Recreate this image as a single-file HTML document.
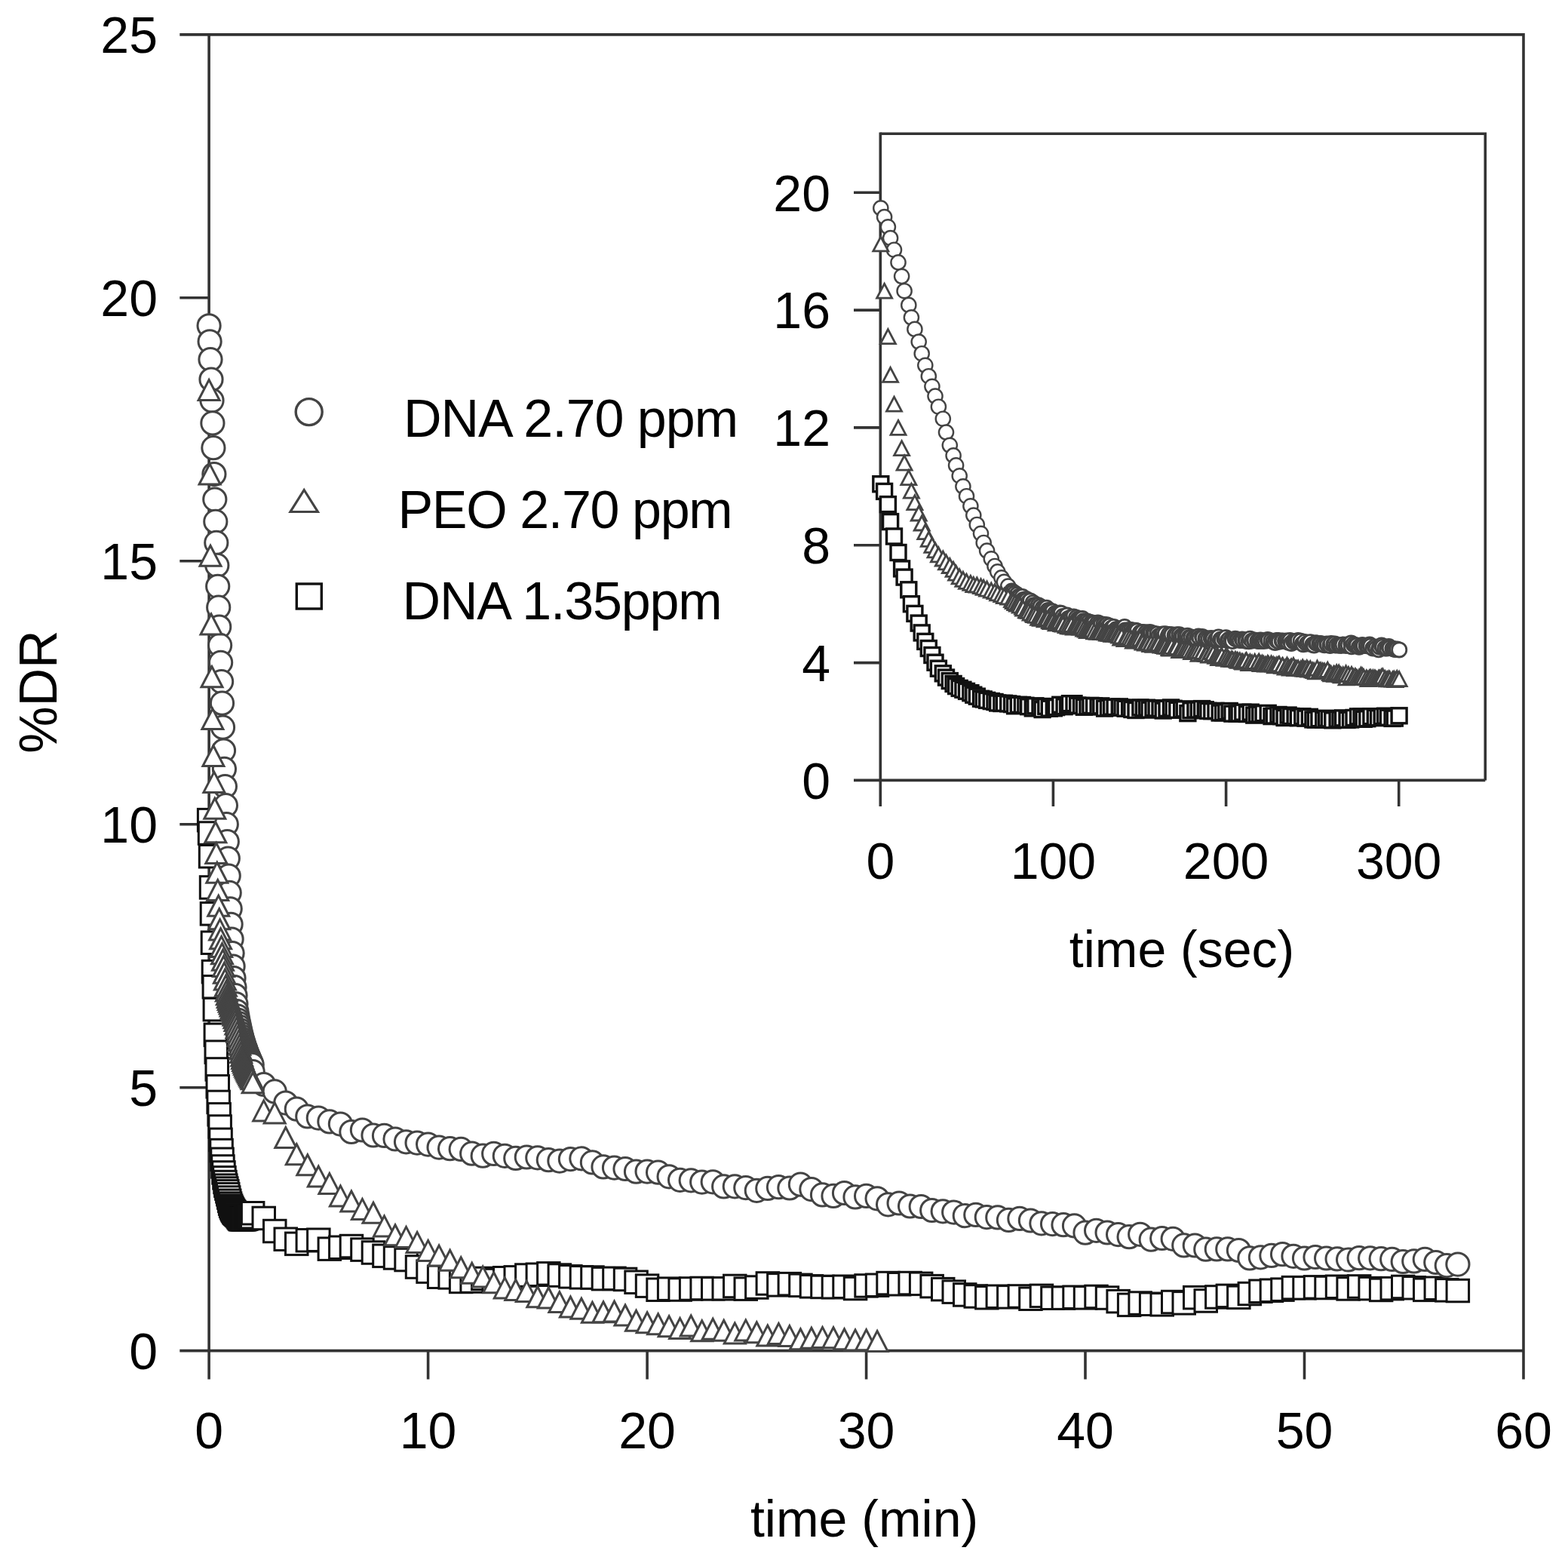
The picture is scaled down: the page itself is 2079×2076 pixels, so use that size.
<!DOCTYPE html>
<html><head><meta charset="utf-8"><title>%DR vs time</title><style>html,body{margin:0;padding:0;background:#fff;overflow:hidden;}svg{display:block;}</style></head><body>
<svg width="2079" height="2076" viewBox="0 0 2079 2076">
<rect width="2079" height="2076" fill="#fff"/>
<g stroke="#333" stroke-width="3.6" fill="none" stroke-linecap="butt">
<path d="M238.3 45.9H2020.0V1828.5"/>
<path d="M238.3 1790.6H2020.0"/>
<path d="M277.1 44.1V1828.5"/>
<path d="M238.3 1441.7H277.1"/>
<path d="M238.3 1092.7H277.1"/>
<path d="M238.3 743.8H277.1"/>
<path d="M238.3 394.8H277.1"/>
<path d="M567.6 1790.6V1828.5"/>
<path d="M858.1 1790.6V1828.5"/>
<path d="M1148.6 1790.6V1828.5"/>
<path d="M1439.0 1790.6V1828.5"/>
<path d="M1729.5 1790.6V1828.5"/>
</g>
<g stroke="#333" stroke-width="3.6" fill="none">
<path d="M1167.3 177.3H1969.3V1034.4"/>
<path d="M1132 1034.4H1969.3"/>
<path d="M1167.3 175.5V1069"/>
<path d="M1132 878.6H1167.3"/>
<path d="M1132 722.7H1167.3"/>
<path d="M1132 566.9H1167.3"/>
<path d="M1132 411.1H1167.3"/>
<path d="M1132 255.2H1167.3"/>
<path d="M1396.4 1034.4V1069"/>
<path d="M1625.6 1034.4V1069"/>
<path d="M1854.7 1034.4V1069"/>
</g>
<g font-family="'Liberation Sans', Arial, Helvetica, sans-serif" font-size="68" fill="#000">
<text x="209" y="1814.9" text-anchor="end">0</text>
<text x="209" y="1466.0" text-anchor="end">5</text>
<text x="209" y="1117.0" text-anchor="end">10</text>
<text x="209" y="768.1" text-anchor="end">15</text>
<text x="209" y="419.1" text-anchor="end">20</text>
<text x="209" y="70.2" text-anchor="end">25</text>
<text x="277.1" y="1920" text-anchor="middle">0</text>
<text x="567.6" y="1920" text-anchor="middle">10</text>
<text x="858.1" y="1920" text-anchor="middle">20</text>
<text x="1148.6" y="1920" text-anchor="middle">30</text>
<text x="1439.0" y="1920" text-anchor="middle">40</text>
<text x="1729.5" y="1920" text-anchor="middle">50</text>
<text x="2020.0" y="1920" text-anchor="middle">60</text>
<text x="1101" y="1058.7" text-anchor="end">0</text>
<text x="1101" y="902.9" text-anchor="end">4</text>
<text x="1101" y="747.0" text-anchor="end">8</text>
<text x="1101" y="591.2" text-anchor="end">12</text>
<text x="1101" y="435.4" text-anchor="end">16</text>
<text x="1101" y="279.5" text-anchor="end">20</text>
<text x="1167.3" y="1165" text-anchor="middle">0</text>
<text x="1396.4" y="1165" text-anchor="middle">100</text>
<text x="1625.6" y="1165" text-anchor="middle">200</text>
<text x="1854.7" y="1165" text-anchor="middle">300</text>
<text x="1146" y="2037.4" text-anchor="middle">time (min)</text>
<text x="1567" y="1281.7" text-anchor="middle">time (sec)</text>
<text transform="translate(74.5 917) rotate(-90)" text-anchor="middle" font-size="70">%DR</text>
<text x="535" y="578.5" font-size="70" textLength="444" lengthAdjust="spacing">DNA 2.70 ppm</text>
<text x="527.5" y="699.5" font-size="70" textLength="444" lengthAdjust="spacing">PEO 2.70 ppm</text>
<text x="533.5" y="820.5" font-size="70" textLength="424" lengthAdjust="spacing">DNA 1.35ppm</text>
</g>
<circle cx="409.7" cy="546.1" r="17.5" fill="#fff" stroke="#444" stroke-width="3.4"/>
<path d="M403.2 649.5L421.4 678.5L385.0 678.5Z" fill="#fff" stroke="#444" stroke-width="3.2" stroke-linejoin="miter"/>
<rect x="393.3" y="774.0" width="33" height="33" fill="#fff" stroke="#111" stroke-width="3.4"/>
<rect x="1157.8" y="631.7" width="20" height="20" fill="#fff" stroke="#111" stroke-width="3.4"/>
<rect x="1162.6" y="641.4" width="20" height="20" fill="#fff" stroke="#111" stroke-width="3.4"/>
<rect x="1167.4" y="658.6" width="20" height="20" fill="#fff" stroke="#111" stroke-width="3.4"/>
<rect x="1170.6" y="681.6" width="20" height="20" fill="#fff" stroke="#111" stroke-width="3.4"/>
<rect x="1175.5" y="701.0" width="20" height="20" fill="#fff" stroke="#111" stroke-width="3.4"/>
<rect x="1181.0" y="722.5" width="20" height="20" fill="#fff" stroke="#111" stroke-width="3.4"/>
<rect x="1185.6" y="743.9" width="20" height="20" fill="#fff" stroke="#111" stroke-width="3.4"/>
<rect x="1189.1" y="755.1" width="20" height="20" fill="#fff" stroke="#111" stroke-width="3.4"/>
<rect x="1194.8" y="771.8" width="20" height="20" fill="#fff" stroke="#111" stroke-width="3.4"/>
<rect x="1198.4" y="790.7" width="20" height="20" fill="#fff" stroke="#111" stroke-width="3.4"/>
<rect x="1202.9" y="803.4" width="20" height="20" fill="#fff" stroke="#111" stroke-width="3.4"/>
<rect x="1208.2" y="816.1" width="20" height="20" fill="#fff" stroke="#111" stroke-width="3.4"/>
<rect x="1212.2" y="828.9" width="20" height="20" fill="#fff" stroke="#111" stroke-width="3.4"/>
<rect x="1216.8" y="840.4" width="20" height="20" fill="#fff" stroke="#111" stroke-width="3.4"/>
<rect x="1221.3" y="849.5" width="20" height="20" fill="#fff" stroke="#111" stroke-width="3.4"/>
<rect x="1225.9" y="858.5" width="20" height="20" fill="#fff" stroke="#111" stroke-width="3.4"/>
<rect x="1230.0" y="868.2" width="20" height="20" fill="#fff" stroke="#111" stroke-width="3.4"/>
<rect x="1234.4" y="876.2" width="20" height="20" fill="#fff" stroke="#111" stroke-width="3.4"/>
<rect x="1240.3" y="882.8" width="20" height="20" fill="#fff" stroke="#111" stroke-width="3.4"/>
<rect x="1244.5" y="888.1" width="20" height="20" fill="#fff" stroke="#111" stroke-width="3.4"/>
<rect x="1249.3" y="892.6" width="20" height="20" fill="#fff" stroke="#111" stroke-width="3.4"/>
<rect x="1254.1" y="896.5" width="20" height="20" fill="#fff" stroke="#111" stroke-width="3.4"/>
<rect x="1257.6" y="899.6" width="20" height="20" fill="#fff" stroke="#111" stroke-width="3.4"/>
<rect x="1262.2" y="902.4" width="20" height="20" fill="#fff" stroke="#111" stroke-width="3.4"/>
<rect x="1266.9" y="904.3" width="20" height="20" fill="#fff" stroke="#111" stroke-width="3.4"/>
<rect x="1271.5" y="906.4" width="20" height="20" fill="#fff" stroke="#111" stroke-width="3.4"/>
<rect x="1276.9" y="908.7" width="20" height="20" fill="#fff" stroke="#111" stroke-width="3.4"/>
<rect x="1280.8" y="911.2" width="20" height="20" fill="#fff" stroke="#111" stroke-width="3.4"/>
<rect x="1285.3" y="913.2" width="20" height="20" fill="#fff" stroke="#111" stroke-width="3.4"/>
<rect x="1290.5" y="916.3" width="20" height="20" fill="#fff" stroke="#111" stroke-width="3.4"/>
<rect x="1294.2" y="917.0" width="20" height="20" fill="#fff" stroke="#111" stroke-width="3.4"/>
<rect x="1298.6" y="918.4" width="20" height="20" fill="#fff" stroke="#111" stroke-width="3.4"/>
<rect x="1304.3" y="919.6" width="20" height="20" fill="#fff" stroke="#111" stroke-width="3.4"/>
<rect x="1309.0" y="920.5" width="20" height="20" fill="#fff" stroke="#111" stroke-width="3.4"/>
<rect x="1312.7" y="922.0" width="20" height="20" fill="#fff" stroke="#111" stroke-width="3.4"/>
<rect x="1317.9" y="922.5" width="20" height="20" fill="#fff" stroke="#111" stroke-width="3.4"/>
<rect x="1321.4" y="922.3" width="20" height="20" fill="#fff" stroke="#111" stroke-width="3.4"/>
<rect x="1326.7" y="922.9" width="20" height="20" fill="#fff" stroke="#111" stroke-width="3.4"/>
<rect x="1331.6" y="923.6" width="20" height="20" fill="#fff" stroke="#111" stroke-width="3.4"/>
<rect x="1335.6" y="925.8" width="20" height="20" fill="#fff" stroke="#111" stroke-width="3.4"/>
<rect x="1340.3" y="924.4" width="20" height="20" fill="#fff" stroke="#111" stroke-width="3.4"/>
<rect x="1345.4" y="924.5" width="20" height="20" fill="#fff" stroke="#111" stroke-width="3.4"/>
<rect x="1349.9" y="925.3" width="20" height="20" fill="#fff" stroke="#111" stroke-width="3.4"/>
<rect x="1353.7" y="926.7" width="20" height="20" fill="#fff" stroke="#111" stroke-width="3.4"/>
<rect x="1359.3" y="928.9" width="20" height="20" fill="#fff" stroke="#111" stroke-width="3.4"/>
<rect x="1362.8" y="925.8" width="20" height="20" fill="#fff" stroke="#111" stroke-width="3.4"/>
<rect x="1369.0" y="927.2" width="20" height="20" fill="#fff" stroke="#111" stroke-width="3.4"/>
<rect x="1372.1" y="930.6" width="20" height="20" fill="#fff" stroke="#111" stroke-width="3.4"/>
<rect x="1376.8" y="926.5" width="20" height="20" fill="#fff" stroke="#111" stroke-width="3.4"/>
<rect x="1381.3" y="929.2" width="20" height="20" fill="#fff" stroke="#111" stroke-width="3.4"/>
<rect x="1387.3" y="928.8" width="20" height="20" fill="#fff" stroke="#111" stroke-width="3.4"/>
<rect x="1390.6" y="927.6" width="20" height="20" fill="#fff" stroke="#111" stroke-width="3.4"/>
<rect x="1395.8" y="924.3" width="20" height="20" fill="#fff" stroke="#111" stroke-width="3.4"/>
<rect x="1401.1" y="926.7" width="20" height="20" fill="#fff" stroke="#111" stroke-width="3.4"/>
<rect x="1405.6" y="925.4" width="20" height="20" fill="#fff" stroke="#111" stroke-width="3.4"/>
<rect x="1408.5" y="922.7" width="20" height="20" fill="#fff" stroke="#111" stroke-width="3.4"/>
<rect x="1414.0" y="922.7" width="20" height="20" fill="#fff" stroke="#111" stroke-width="3.4"/>
<rect x="1418.7" y="925.2" width="20" height="20" fill="#fff" stroke="#111" stroke-width="3.4"/>
<rect x="1423.5" y="925.5" width="20" height="20" fill="#fff" stroke="#111" stroke-width="3.4"/>
<rect x="1427.4" y="927.3" width="20" height="20" fill="#fff" stroke="#111" stroke-width="3.4"/>
<rect x="1432.0" y="926.8" width="20" height="20" fill="#fff" stroke="#111" stroke-width="3.4"/>
<rect x="1435.9" y="925.4" width="20" height="20" fill="#fff" stroke="#111" stroke-width="3.4"/>
<rect x="1440.6" y="925.8" width="20" height="20" fill="#fff" stroke="#111" stroke-width="3.4"/>
<rect x="1446.1" y="926.7" width="20" height="20" fill="#fff" stroke="#111" stroke-width="3.4"/>
<rect x="1449.8" y="925.9" width="20" height="20" fill="#fff" stroke="#111" stroke-width="3.4"/>
<rect x="1454.6" y="929.1" width="20" height="20" fill="#fff" stroke="#111" stroke-width="3.4"/>
<rect x="1459.5" y="928.3" width="20" height="20" fill="#fff" stroke="#111" stroke-width="3.4"/>
<rect x="1463.6" y="927.2" width="20" height="20" fill="#fff" stroke="#111" stroke-width="3.4"/>
<rect x="1468.1" y="927.5" width="20" height="20" fill="#fff" stroke="#111" stroke-width="3.4"/>
<rect x="1474.3" y="926.9" width="20" height="20" fill="#fff" stroke="#111" stroke-width="3.4"/>
<rect x="1478.0" y="928.1" width="20" height="20" fill="#fff" stroke="#111" stroke-width="3.4"/>
<rect x="1482.1" y="929.3" width="20" height="20" fill="#fff" stroke="#111" stroke-width="3.4"/>
<rect x="1487.6" y="928.3" width="20" height="20" fill="#fff" stroke="#111" stroke-width="3.4"/>
<rect x="1490.9" y="930.5" width="20" height="20" fill="#fff" stroke="#111" stroke-width="3.4"/>
<rect x="1496.0" y="931.5" width="20" height="20" fill="#fff" stroke="#111" stroke-width="3.4"/>
<rect x="1501.9" y="928.0" width="20" height="20" fill="#fff" stroke="#111" stroke-width="3.4"/>
<rect x="1506.3" y="929.0" width="20" height="20" fill="#fff" stroke="#111" stroke-width="3.4"/>
<rect x="1510.4" y="928.2" width="20" height="20" fill="#fff" stroke="#111" stroke-width="3.4"/>
<rect x="1514.0" y="931.1" width="20" height="20" fill="#fff" stroke="#111" stroke-width="3.4"/>
<rect x="1519.0" y="928.8" width="20" height="20" fill="#fff" stroke="#111" stroke-width="3.4"/>
<rect x="1523.1" y="929.1" width="20" height="20" fill="#fff" stroke="#111" stroke-width="3.4"/>
<rect x="1528.0" y="929.6" width="20" height="20" fill="#fff" stroke="#111" stroke-width="3.4"/>
<rect x="1532.2" y="932.0" width="20" height="20" fill="#fff" stroke="#111" stroke-width="3.4"/>
<rect x="1537.0" y="929.4" width="20" height="20" fill="#fff" stroke="#111" stroke-width="3.4"/>
<rect x="1542.5" y="928.0" width="20" height="20" fill="#fff" stroke="#111" stroke-width="3.4"/>
<rect x="1546.1" y="929.3" width="20" height="20" fill="#fff" stroke="#111" stroke-width="3.4"/>
<rect x="1550.8" y="931.3" width="20" height="20" fill="#fff" stroke="#111" stroke-width="3.4"/>
<rect x="1556.7" y="930.8" width="20" height="20" fill="#fff" stroke="#111" stroke-width="3.4"/>
<rect x="1560.3" y="929.9" width="20" height="20" fill="#fff" stroke="#111" stroke-width="3.4"/>
<rect x="1564.9" y="935.6" width="20" height="20" fill="#fff" stroke="#111" stroke-width="3.4"/>
<rect x="1569.0" y="931.8" width="20" height="20" fill="#fff" stroke="#111" stroke-width="3.4"/>
<rect x="1574.9" y="931.0" width="20" height="20" fill="#fff" stroke="#111" stroke-width="3.4"/>
<rect x="1579.2" y="931.0" width="20" height="20" fill="#fff" stroke="#111" stroke-width="3.4"/>
<rect x="1583.6" y="929.6" width="20" height="20" fill="#fff" stroke="#111" stroke-width="3.4"/>
<rect x="1588.3" y="930.8" width="20" height="20" fill="#fff" stroke="#111" stroke-width="3.4"/>
<rect x="1591.9" y="932.4" width="20" height="20" fill="#fff" stroke="#111" stroke-width="3.4"/>
<rect x="1596.8" y="932.7" width="20" height="20" fill="#fff" stroke="#111" stroke-width="3.4"/>
<rect x="1602.0" y="932.4" width="20" height="20" fill="#fff" stroke="#111" stroke-width="3.4"/>
<rect x="1607.2" y="935.0" width="20" height="20" fill="#fff" stroke="#111" stroke-width="3.4"/>
<rect x="1611.6" y="934.7" width="20" height="20" fill="#fff" stroke="#111" stroke-width="3.4"/>
<rect x="1615.8" y="933.7" width="20" height="20" fill="#fff" stroke="#111" stroke-width="3.4"/>
<rect x="1620.2" y="932.5" width="20" height="20" fill="#fff" stroke="#111" stroke-width="3.4"/>
<rect x="1623.9" y="936.1" width="20" height="20" fill="#fff" stroke="#111" stroke-width="3.4"/>
<rect x="1630.1" y="936.1" width="20" height="20" fill="#fff" stroke="#111" stroke-width="3.4"/>
<rect x="1633.1" y="935.9" width="20" height="20" fill="#fff" stroke="#111" stroke-width="3.4"/>
<rect x="1637.8" y="934.2" width="20" height="20" fill="#fff" stroke="#111" stroke-width="3.4"/>
<rect x="1643.4" y="936.5" width="20" height="20" fill="#fff" stroke="#111" stroke-width="3.4"/>
<rect x="1648.2" y="934.2" width="20" height="20" fill="#fff" stroke="#111" stroke-width="3.4"/>
<rect x="1652.8" y="938.1" width="20" height="20" fill="#fff" stroke="#111" stroke-width="3.4"/>
<rect x="1656.7" y="937.0" width="20" height="20" fill="#fff" stroke="#111" stroke-width="3.4"/>
<rect x="1660.8" y="937.1" width="20" height="20" fill="#fff" stroke="#111" stroke-width="3.4"/>
<rect x="1665.1" y="935.7" width="20" height="20" fill="#fff" stroke="#111" stroke-width="3.4"/>
<rect x="1671.2" y="935.4" width="20" height="20" fill="#fff" stroke="#111" stroke-width="3.4"/>
<rect x="1676.0" y="939.6" width="20" height="20" fill="#fff" stroke="#111" stroke-width="3.4"/>
<rect x="1679.3" y="939.0" width="20" height="20" fill="#fff" stroke="#111" stroke-width="3.4"/>
<rect x="1685.0" y="937.5" width="20" height="20" fill="#fff" stroke="#111" stroke-width="3.4"/>
<rect x="1688.7" y="939.6" width="20" height="20" fill="#fff" stroke="#111" stroke-width="3.4"/>
<rect x="1693.1" y="941.5" width="20" height="20" fill="#fff" stroke="#111" stroke-width="3.4"/>
<rect x="1698.1" y="938.1" width="20" height="20" fill="#fff" stroke="#111" stroke-width="3.4"/>
<rect x="1701.8" y="939.5" width="20" height="20" fill="#fff" stroke="#111" stroke-width="3.4"/>
<rect x="1707.1" y="939.9" width="20" height="20" fill="#fff" stroke="#111" stroke-width="3.4"/>
<rect x="1711.3" y="941.7" width="20" height="20" fill="#fff" stroke="#111" stroke-width="3.4"/>
<rect x="1716.8" y="939.8" width="20" height="20" fill="#fff" stroke="#111" stroke-width="3.4"/>
<rect x="1721.0" y="942.1" width="20" height="20" fill="#fff" stroke="#111" stroke-width="3.4"/>
<rect x="1726.3" y="940.4" width="20" height="20" fill="#fff" stroke="#111" stroke-width="3.4"/>
<rect x="1730.9" y="943.9" width="20" height="20" fill="#fff" stroke="#111" stroke-width="3.4"/>
<rect x="1734.4" y="944.1" width="20" height="20" fill="#fff" stroke="#111" stroke-width="3.4"/>
<rect x="1738.9" y="942.7" width="20" height="20" fill="#fff" stroke="#111" stroke-width="3.4"/>
<rect x="1744.7" y="944.3" width="20" height="20" fill="#fff" stroke="#111" stroke-width="3.4"/>
<rect x="1748.5" y="942.3" width="20" height="20" fill="#fff" stroke="#111" stroke-width="3.4"/>
<rect x="1752.3" y="943.0" width="20" height="20" fill="#fff" stroke="#111" stroke-width="3.4"/>
<rect x="1756.8" y="944.8" width="20" height="20" fill="#fff" stroke="#111" stroke-width="3.4"/>
<rect x="1763.1" y="943.3" width="20" height="20" fill="#fff" stroke="#111" stroke-width="3.4"/>
<rect x="1767.0" y="943.9" width="20" height="20" fill="#fff" stroke="#111" stroke-width="3.4"/>
<rect x="1770.6" y="941.9" width="20" height="20" fill="#fff" stroke="#111" stroke-width="3.4"/>
<rect x="1776.0" y="944.4" width="20" height="20" fill="#fff" stroke="#111" stroke-width="3.4"/>
<rect x="1780.6" y="944.0" width="20" height="20" fill="#fff" stroke="#111" stroke-width="3.4"/>
<rect x="1785.0" y="941.5" width="20" height="20" fill="#fff" stroke="#111" stroke-width="3.4"/>
<rect x="1790.6" y="939.9" width="20" height="20" fill="#fff" stroke="#111" stroke-width="3.4"/>
<rect x="1795.1" y="940.2" width="20" height="20" fill="#fff" stroke="#111" stroke-width="3.4"/>
<rect x="1798.2" y="943.3" width="20" height="20" fill="#fff" stroke="#111" stroke-width="3.4"/>
<rect x="1802.8" y="942.7" width="20" height="20" fill="#fff" stroke="#111" stroke-width="3.4"/>
<rect x="1807.9" y="939.7" width="20" height="20" fill="#fff" stroke="#111" stroke-width="3.4"/>
<rect x="1813.3" y="941.3" width="20" height="20" fill="#fff" stroke="#111" stroke-width="3.4"/>
<rect x="1817.5" y="941.7" width="20" height="20" fill="#fff" stroke="#111" stroke-width="3.4"/>
<rect x="1822.2" y="939.7" width="20" height="20" fill="#fff" stroke="#111" stroke-width="3.4"/>
<rect x="1826.5" y="939.2" width="20" height="20" fill="#fff" stroke="#111" stroke-width="3.4"/>
<rect x="1830.4" y="941.2" width="20" height="20" fill="#fff" stroke="#111" stroke-width="3.4"/>
<rect x="1836.1" y="942.4" width="20" height="20" fill="#fff" stroke="#111" stroke-width="3.4"/>
<rect x="1839.3" y="942.1" width="20" height="20" fill="#fff" stroke="#111" stroke-width="3.4"/>
<rect x="1845.1" y="938.8" width="20" height="20" fill="#fff" stroke="#111" stroke-width="3.4"/>
<circle cx="1167.8" cy="275.9" r="9.6" fill="#fff" stroke="#444" stroke-width="2.4"/>
<circle cx="1172.6" cy="287.6" r="9.6" fill="#fff" stroke="#444" stroke-width="2.4"/>
<circle cx="1177.4" cy="300.8" r="9.6" fill="#fff" stroke="#444" stroke-width="2.4"/>
<circle cx="1180.6" cy="315.6" r="9.6" fill="#fff" stroke="#444" stroke-width="2.4"/>
<circle cx="1185.5" cy="331.2" r="9.6" fill="#fff" stroke="#444" stroke-width="2.4"/>
<circle cx="1191.0" cy="347.9" r="9.6" fill="#fff" stroke="#444" stroke-width="2.4"/>
<circle cx="1195.6" cy="366.3" r="9.6" fill="#fff" stroke="#444" stroke-width="2.4"/>
<circle cx="1199.1" cy="385.7" r="9.6" fill="#fff" stroke="#444" stroke-width="2.4"/>
<circle cx="1204.8" cy="404.4" r="9.6" fill="#fff" stroke="#444" stroke-width="2.4"/>
<circle cx="1208.4" cy="420.8" r="9.6" fill="#fff" stroke="#444" stroke-width="2.4"/>
<circle cx="1212.9" cy="436.4" r="9.6" fill="#fff" stroke="#444" stroke-width="2.4"/>
<circle cx="1218.2" cy="453.1" r="9.6" fill="#fff" stroke="#444" stroke-width="2.4"/>
<circle cx="1222.2" cy="468.7" r="9.6" fill="#fff" stroke="#444" stroke-width="2.4"/>
<circle cx="1226.8" cy="484.3" r="9.6" fill="#fff" stroke="#444" stroke-width="2.4"/>
<circle cx="1231.3" cy="498.7" r="9.6" fill="#fff" stroke="#444" stroke-width="2.4"/>
<circle cx="1235.9" cy="512.3" r="9.6" fill="#fff" stroke="#444" stroke-width="2.4"/>
<circle cx="1240.0" cy="525.1" r="9.6" fill="#fff" stroke="#444" stroke-width="2.4"/>
<circle cx="1244.4" cy="539.2" r="9.6" fill="#fff" stroke="#444" stroke-width="2.4"/>
<circle cx="1250.3" cy="555.2" r="9.6" fill="#fff" stroke="#444" stroke-width="2.4"/>
<circle cx="1254.5" cy="573.1" r="9.6" fill="#fff" stroke="#444" stroke-width="2.4"/>
<circle cx="1259.3" cy="590.3" r="9.6" fill="#fff" stroke="#444" stroke-width="2.4"/>
<circle cx="1264.1" cy="603.9" r="9.6" fill="#fff" stroke="#444" stroke-width="2.4"/>
<circle cx="1267.6" cy="616.9" r="9.6" fill="#fff" stroke="#444" stroke-width="2.4"/>
<circle cx="1272.2" cy="630.8" r="9.6" fill="#fff" stroke="#444" stroke-width="2.4"/>
<circle cx="1276.9" cy="644.8" r="9.6" fill="#fff" stroke="#444" stroke-width="2.4"/>
<circle cx="1281.5" cy="657.7" r="9.6" fill="#fff" stroke="#444" stroke-width="2.4"/>
<circle cx="1286.9" cy="670.8" r="9.6" fill="#fff" stroke="#444" stroke-width="2.4"/>
<circle cx="1290.8" cy="683.1" r="9.6" fill="#fff" stroke="#444" stroke-width="2.4"/>
<circle cx="1295.3" cy="695.5" r="9.6" fill="#fff" stroke="#444" stroke-width="2.4"/>
<circle cx="1300.5" cy="707.3" r="9.6" fill="#fff" stroke="#444" stroke-width="2.4"/>
<circle cx="1304.2" cy="719.5" r="9.6" fill="#fff" stroke="#444" stroke-width="2.4"/>
<circle cx="1308.6" cy="730.1" r="9.6" fill="#fff" stroke="#444" stroke-width="2.4"/>
<circle cx="1314.3" cy="740.8" r="9.6" fill="#fff" stroke="#444" stroke-width="2.4"/>
<circle cx="1319.0" cy="750.5" r="9.6" fill="#fff" stroke="#444" stroke-width="2.4"/>
<circle cx="1322.7" cy="757.9" r="9.6" fill="#fff" stroke="#444" stroke-width="2.4"/>
<circle cx="1327.9" cy="765.9" r="9.6" fill="#fff" stroke="#444" stroke-width="2.4"/>
<circle cx="1331.4" cy="771.4" r="9.6" fill="#fff" stroke="#444" stroke-width="2.4"/>
<circle cx="1336.7" cy="777.1" r="9.6" fill="#fff" stroke="#444" stroke-width="2.4"/>
<circle cx="1341.6" cy="783.6" r="9.6" fill="#fff" stroke="#444" stroke-width="2.8"/>
<circle cx="1343.3" cy="785.1" r="9.6" fill="#fff" stroke="#444" stroke-width="2.8"/>
<circle cx="1345.8" cy="786.6" r="9.6" fill="#fff" stroke="#444" stroke-width="2.8"/>
<circle cx="1348.5" cy="788.2" r="9.6" fill="#fff" stroke="#444" stroke-width="2.8"/>
<circle cx="1350.8" cy="790.8" r="9.6" fill="#fff" stroke="#444" stroke-width="2.8"/>
<circle cx="1352.3" cy="791.0" r="9.6" fill="#fff" stroke="#444" stroke-width="2.8"/>
<circle cx="1355.6" cy="791.0" r="9.6" fill="#fff" stroke="#444" stroke-width="2.8"/>
<circle cx="1356.7" cy="795.1" r="9.6" fill="#fff" stroke="#444" stroke-width="2.8"/>
<circle cx="1360.6" cy="793.9" r="9.6" fill="#fff" stroke="#444" stroke-width="2.8"/>
<circle cx="1361.5" cy="795.9" r="9.6" fill="#fff" stroke="#444" stroke-width="2.8"/>
<circle cx="1363.9" cy="798.0" r="9.6" fill="#fff" stroke="#444" stroke-width="2.8"/>
<circle cx="1366.1" cy="796.4" r="9.6" fill="#fff" stroke="#444" stroke-width="2.8"/>
<circle cx="1369.8" cy="798.9" r="9.6" fill="#fff" stroke="#444" stroke-width="2.8"/>
<circle cx="1370.8" cy="802.2" r="9.6" fill="#fff" stroke="#444" stroke-width="2.8"/>
<circle cx="1373.7" cy="801.9" r="9.6" fill="#fff" stroke="#444" stroke-width="2.8"/>
<circle cx="1376.7" cy="802.3" r="9.6" fill="#fff" stroke="#444" stroke-width="2.8"/>
<circle cx="1378.9" cy="804.2" r="9.6" fill="#fff" stroke="#444" stroke-width="2.8"/>
<circle cx="1379.6" cy="804.1" r="9.6" fill="#fff" stroke="#444" stroke-width="2.8"/>
<circle cx="1382.7" cy="805.9" r="9.6" fill="#fff" stroke="#444" stroke-width="2.8"/>
<circle cx="1385.2" cy="805.9" r="9.6" fill="#fff" stroke="#444" stroke-width="2.8"/>
<circle cx="1387.6" cy="805.7" r="9.6" fill="#fff" stroke="#444" stroke-width="2.8"/>
<circle cx="1389.3" cy="809.3" r="9.6" fill="#fff" stroke="#444" stroke-width="2.8"/>
<circle cx="1391.5" cy="808.9" r="9.6" fill="#fff" stroke="#444" stroke-width="2.8"/>
<circle cx="1393.2" cy="810.6" r="9.6" fill="#fff" stroke="#444" stroke-width="2.8"/>
<circle cx="1395.6" cy="810.6" r="9.6" fill="#fff" stroke="#444" stroke-width="2.8"/>
<circle cx="1398.8" cy="813.2" r="9.6" fill="#fff" stroke="#444" stroke-width="2.8"/>
<circle cx="1400.2" cy="813.1" r="9.6" fill="#fff" stroke="#444" stroke-width="2.8"/>
<circle cx="1402.8" cy="813.3" r="9.6" fill="#fff" stroke="#444" stroke-width="2.8"/>
<circle cx="1405.3" cy="812.5" r="9.6" fill="#fff" stroke="#444" stroke-width="2.8"/>
<circle cx="1407.1" cy="812.9" r="9.6" fill="#fff" stroke="#444" stroke-width="2.8"/>
<circle cx="1409.3" cy="817.0" r="9.6" fill="#fff" stroke="#444" stroke-width="2.8"/>
<circle cx="1413.3" cy="816.9" r="9.6" fill="#fff" stroke="#444" stroke-width="2.8"/>
<circle cx="1414.7" cy="815.6" r="9.6" fill="#fff" stroke="#444" stroke-width="2.8"/>
<circle cx="1416.5" cy="819.9" r="9.6" fill="#fff" stroke="#444" stroke-width="2.8"/>
<circle cx="1419.7" cy="818.4" r="9.6" fill="#fff" stroke="#444" stroke-width="2.8"/>
<circle cx="1420.7" cy="818.6" r="9.6" fill="#fff" stroke="#444" stroke-width="2.8"/>
<circle cx="1423.5" cy="817.4" r="9.6" fill="#fff" stroke="#444" stroke-width="2.8"/>
<circle cx="1427.1" cy="818.8" r="9.6" fill="#fff" stroke="#444" stroke-width="2.8"/>
<circle cx="1429.3" cy="820.8" r="9.6" fill="#fff" stroke="#444" stroke-width="2.8"/>
<circle cx="1431.1" cy="821.4" r="9.6" fill="#fff" stroke="#444" stroke-width="2.8"/>
<circle cx="1432.4" cy="821.9" r="9.6" fill="#fff" stroke="#444" stroke-width="2.8"/>
<circle cx="1435.1" cy="820.1" r="9.6" fill="#fff" stroke="#444" stroke-width="2.8"/>
<circle cx="1436.8" cy="823.3" r="9.6" fill="#fff" stroke="#444" stroke-width="2.8"/>
<circle cx="1439.5" cy="823.7" r="9.6" fill="#fff" stroke="#444" stroke-width="2.8"/>
<circle cx="1441.4" cy="823.4" r="9.6" fill="#fff" stroke="#444" stroke-width="2.8"/>
<circle cx="1443.9" cy="824.6" r="9.6" fill="#fff" stroke="#444" stroke-width="2.8"/>
<circle cx="1447.1" cy="825.3" r="9.6" fill="#fff" stroke="#444" stroke-width="2.8"/>
<circle cx="1448.4" cy="827.1" r="9.6" fill="#fff" stroke="#444" stroke-width="2.8"/>
<circle cx="1450.8" cy="826.1" r="9.6" fill="#fff" stroke="#444" stroke-width="2.8"/>
<circle cx="1454.5" cy="827.2" r="9.6" fill="#fff" stroke="#444" stroke-width="2.8"/>
<circle cx="1455.7" cy="825.5" r="9.6" fill="#fff" stroke="#444" stroke-width="2.8"/>
<circle cx="1458.0" cy="826.7" r="9.6" fill="#fff" stroke="#444" stroke-width="2.8"/>
<circle cx="1459.8" cy="828.2" r="9.6" fill="#fff" stroke="#444" stroke-width="2.8"/>
<circle cx="1463.4" cy="827.7" r="9.6" fill="#fff" stroke="#444" stroke-width="2.8"/>
<circle cx="1465.5" cy="829.6" r="9.6" fill="#fff" stroke="#444" stroke-width="2.8"/>
<circle cx="1467.6" cy="828.2" r="9.6" fill="#fff" stroke="#444" stroke-width="2.8"/>
<circle cx="1470.0" cy="830.1" r="9.6" fill="#fff" stroke="#444" stroke-width="2.8"/>
<circle cx="1471.3" cy="829.8" r="9.6" fill="#fff" stroke="#444" stroke-width="2.8"/>
<circle cx="1473.9" cy="832.8" r="9.6" fill="#fff" stroke="#444" stroke-width="2.8"/>
<circle cx="1476.8" cy="831.0" r="9.6" fill="#fff" stroke="#444" stroke-width="2.8"/>
<circle cx="1479.8" cy="834.2" r="9.6" fill="#fff" stroke="#444" stroke-width="2.8"/>
<circle cx="1481.8" cy="835.1" r="9.6" fill="#fff" stroke="#444" stroke-width="2.8"/>
<circle cx="1483.8" cy="833.2" r="9.6" fill="#fff" stroke="#444" stroke-width="2.8"/>
<circle cx="1485.8" cy="834.4" r="9.6" fill="#fff" stroke="#444" stroke-width="2.8"/>
<circle cx="1487.2" cy="833.4" r="9.6" fill="#fff" stroke="#444" stroke-width="2.8"/>
<circle cx="1491.1" cy="831.0" r="9.6" fill="#fff" stroke="#444" stroke-width="2.8"/>
<circle cx="1491.9" cy="835.6" r="9.6" fill="#fff" stroke="#444" stroke-width="2.8"/>
<circle cx="1494.3" cy="835.7" r="9.6" fill="#fff" stroke="#444" stroke-width="2.8"/>
<circle cx="1497.6" cy="835.0" r="9.6" fill="#fff" stroke="#444" stroke-width="2.8"/>
<circle cx="1500.1" cy="835.0" r="9.6" fill="#fff" stroke="#444" stroke-width="2.8"/>
<circle cx="1502.4" cy="836.3" r="9.6" fill="#fff" stroke="#444" stroke-width="2.8"/>
<circle cx="1504.1" cy="836.7" r="9.6" fill="#fff" stroke="#444" stroke-width="2.8"/>
<circle cx="1505.8" cy="835.8" r="9.6" fill="#fff" stroke="#444" stroke-width="2.8"/>
<circle cx="1507.9" cy="836.4" r="9.6" fill="#fff" stroke="#444" stroke-width="2.8"/>
<circle cx="1511.7" cy="838.8" r="9.6" fill="#fff" stroke="#444" stroke-width="2.8"/>
<circle cx="1514.2" cy="837.9" r="9.6" fill="#fff" stroke="#444" stroke-width="2.8"/>
<circle cx="1515.1" cy="838.0" r="9.6" fill="#fff" stroke="#444" stroke-width="2.8"/>
<circle cx="1518.6" cy="839.8" r="9.6" fill="#fff" stroke="#444" stroke-width="2.8"/>
<circle cx="1520.0" cy="838.3" r="9.6" fill="#fff" stroke="#444" stroke-width="2.8"/>
<circle cx="1522.1" cy="840.1" r="9.6" fill="#fff" stroke="#444" stroke-width="2.8"/>
<circle cx="1524.8" cy="837.9" r="9.6" fill="#fff" stroke="#444" stroke-width="2.8"/>
<circle cx="1526.2" cy="839.2" r="9.6" fill="#fff" stroke="#444" stroke-width="2.8"/>
<circle cx="1529.2" cy="839.6" r="9.6" fill="#fff" stroke="#444" stroke-width="2.8"/>
<circle cx="1531.1" cy="840.8" r="9.6" fill="#fff" stroke="#444" stroke-width="2.8"/>
<circle cx="1534.3" cy="840.4" r="9.6" fill="#fff" stroke="#444" stroke-width="2.8"/>
<circle cx="1536.2" cy="843.2" r="9.6" fill="#fff" stroke="#444" stroke-width="2.8"/>
<circle cx="1539.2" cy="842.3" r="9.6" fill="#fff" stroke="#444" stroke-width="2.8"/>
<circle cx="1541.5" cy="840.5" r="9.6" fill="#fff" stroke="#444" stroke-width="2.8"/>
<circle cx="1542.8" cy="844.2" r="9.6" fill="#fff" stroke="#444" stroke-width="2.8"/>
<circle cx="1545.0" cy="840.3" r="9.6" fill="#fff" stroke="#444" stroke-width="2.8"/>
<circle cx="1548.5" cy="844.1" r="9.6" fill="#fff" stroke="#444" stroke-width="2.8"/>
<circle cx="1550.0" cy="840.9" r="9.6" fill="#fff" stroke="#444" stroke-width="2.8"/>
<circle cx="1551.5" cy="843.3" r="9.6" fill="#fff" stroke="#444" stroke-width="2.8"/>
<circle cx="1553.7" cy="841.3" r="9.6" fill="#fff" stroke="#444" stroke-width="2.8"/>
<circle cx="1557.7" cy="842.4" r="9.6" fill="#fff" stroke="#444" stroke-width="2.8"/>
<circle cx="1559.3" cy="844.9" r="9.6" fill="#fff" stroke="#444" stroke-width="2.8"/>
<circle cx="1560.6" cy="841.3" r="9.6" fill="#fff" stroke="#444" stroke-width="2.8"/>
<circle cx="1563.7" cy="841.3" r="9.6" fill="#fff" stroke="#444" stroke-width="2.8"/>
<circle cx="1566.0" cy="843.5" r="9.6" fill="#fff" stroke="#444" stroke-width="2.8"/>
<circle cx="1568.2" cy="844.0" r="9.6" fill="#fff" stroke="#444" stroke-width="2.8"/>
<circle cx="1571.4" cy="844.0" r="9.6" fill="#fff" stroke="#444" stroke-width="2.8"/>
<circle cx="1573.7" cy="845.3" r="9.6" fill="#fff" stroke="#444" stroke-width="2.8"/>
<circle cx="1574.5" cy="842.7" r="9.6" fill="#fff" stroke="#444" stroke-width="2.8"/>
<circle cx="1576.8" cy="845.1" r="9.6" fill="#fff" stroke="#444" stroke-width="2.8"/>
<circle cx="1579.6" cy="844.6" r="9.6" fill="#fff" stroke="#444" stroke-width="2.8"/>
<circle cx="1582.7" cy="845.8" r="9.6" fill="#fff" stroke="#444" stroke-width="2.8"/>
<circle cx="1584.6" cy="845.7" r="9.6" fill="#fff" stroke="#444" stroke-width="2.8"/>
<circle cx="1587.1" cy="846.7" r="9.6" fill="#fff" stroke="#444" stroke-width="2.8"/>
<circle cx="1589.1" cy="843.4" r="9.6" fill="#fff" stroke="#444" stroke-width="2.8"/>
<circle cx="1590.7" cy="845.5" r="9.6" fill="#fff" stroke="#444" stroke-width="2.8"/>
<circle cx="1594.1" cy="844.1" r="9.6" fill="#fff" stroke="#444" stroke-width="2.8"/>
<circle cx="1594.9" cy="845.5" r="9.6" fill="#fff" stroke="#444" stroke-width="2.8"/>
<circle cx="1598.5" cy="846.6" r="9.6" fill="#fff" stroke="#444" stroke-width="2.8"/>
<circle cx="1599.8" cy="846.3" r="9.6" fill="#fff" stroke="#444" stroke-width="2.8"/>
<circle cx="1602.6" cy="846.7" r="9.6" fill="#fff" stroke="#444" stroke-width="2.8"/>
<circle cx="1605.8" cy="846.1" r="9.6" fill="#fff" stroke="#444" stroke-width="2.8"/>
<circle cx="1607.3" cy="846.7" r="9.6" fill="#fff" stroke="#444" stroke-width="2.8"/>
<circle cx="1608.7" cy="846.7" r="9.6" fill="#fff" stroke="#444" stroke-width="2.8"/>
<circle cx="1611.7" cy="848.3" r="9.6" fill="#fff" stroke="#444" stroke-width="2.8"/>
<circle cx="1614.4" cy="847.7" r="9.6" fill="#fff" stroke="#444" stroke-width="2.8"/>
<circle cx="1615.6" cy="844.4" r="9.6" fill="#fff" stroke="#444" stroke-width="2.8"/>
<circle cx="1618.3" cy="847.7" r="9.6" fill="#fff" stroke="#444" stroke-width="2.8"/>
<circle cx="1620.1" cy="848.3" r="9.6" fill="#fff" stroke="#444" stroke-width="2.8"/>
<circle cx="1623.4" cy="846.6" r="9.6" fill="#fff" stroke="#444" stroke-width="2.8"/>
<circle cx="1625.4" cy="845.2" r="9.6" fill="#fff" stroke="#444" stroke-width="2.8"/>
<circle cx="1627.9" cy="849.2" r="9.6" fill="#fff" stroke="#444" stroke-width="2.8"/>
<circle cx="1629.8" cy="847.6" r="9.6" fill="#fff" stroke="#444" stroke-width="2.8"/>
<circle cx="1632.7" cy="848.3" r="9.6" fill="#fff" stroke="#444" stroke-width="2.8"/>
<circle cx="1634.2" cy="850.0" r="9.6" fill="#fff" stroke="#444" stroke-width="2.8"/>
<circle cx="1637.8" cy="846.7" r="9.6" fill="#fff" stroke="#444" stroke-width="2.8"/>
<circle cx="1640.2" cy="847.8" r="9.6" fill="#fff" stroke="#444" stroke-width="2.8"/>
<circle cx="1641.6" cy="847.8" r="9.6" fill="#fff" stroke="#444" stroke-width="2.8"/>
<circle cx="1643.9" cy="849.0" r="9.6" fill="#fff" stroke="#444" stroke-width="2.8"/>
<circle cx="1646.9" cy="847.5" r="9.6" fill="#fff" stroke="#444" stroke-width="2.8"/>
<circle cx="1648.1" cy="848.9" r="9.6" fill="#fff" stroke="#444" stroke-width="2.8"/>
<circle cx="1651.3" cy="848.5" r="9.6" fill="#fff" stroke="#444" stroke-width="2.8"/>
<circle cx="1652.7" cy="849.9" r="9.6" fill="#fff" stroke="#444" stroke-width="2.8"/>
<circle cx="1655.8" cy="850.2" r="9.6" fill="#fff" stroke="#444" stroke-width="2.8"/>
<circle cx="1657.4" cy="846.8" r="9.6" fill="#fff" stroke="#444" stroke-width="2.8"/>
<circle cx="1660.1" cy="849.4" r="9.6" fill="#fff" stroke="#444" stroke-width="2.8"/>
<circle cx="1663.0" cy="848.4" r="9.6" fill="#fff" stroke="#444" stroke-width="2.8"/>
<circle cx="1663.7" cy="849.0" r="9.6" fill="#fff" stroke="#444" stroke-width="2.8"/>
<circle cx="1667.4" cy="849.7" r="9.6" fill="#fff" stroke="#444" stroke-width="2.8"/>
<circle cx="1669.2" cy="849.9" r="9.6" fill="#fff" stroke="#444" stroke-width="2.8"/>
<circle cx="1671.2" cy="848.4" r="9.6" fill="#fff" stroke="#444" stroke-width="2.8"/>
<circle cx="1673.4" cy="849.8" r="9.6" fill="#fff" stroke="#444" stroke-width="2.8"/>
<circle cx="1675.2" cy="849.7" r="9.6" fill="#fff" stroke="#444" stroke-width="2.8"/>
<circle cx="1677.8" cy="849.6" r="9.6" fill="#fff" stroke="#444" stroke-width="2.8"/>
<circle cx="1680.8" cy="848.1" r="9.6" fill="#fff" stroke="#444" stroke-width="2.8"/>
<circle cx="1682.1" cy="848.9" r="9.6" fill="#fff" stroke="#444" stroke-width="2.8"/>
<circle cx="1685.5" cy="849.4" r="9.6" fill="#fff" stroke="#444" stroke-width="2.8"/>
<circle cx="1688.3" cy="850.8" r="9.6" fill="#fff" stroke="#444" stroke-width="2.8"/>
<circle cx="1690.6" cy="852.0" r="9.6" fill="#fff" stroke="#444" stroke-width="2.8"/>
<circle cx="1692.8" cy="849.0" r="9.6" fill="#fff" stroke="#444" stroke-width="2.8"/>
<circle cx="1694.9" cy="849.1" r="9.6" fill="#fff" stroke="#444" stroke-width="2.8"/>
<circle cx="1696.0" cy="850.7" r="9.6" fill="#fff" stroke="#444" stroke-width="2.8"/>
<circle cx="1699.8" cy="849.8" r="9.6" fill="#fff" stroke="#444" stroke-width="2.8"/>
<circle cx="1700.7" cy="849.6" r="9.6" fill="#fff" stroke="#444" stroke-width="2.8"/>
<circle cx="1704.2" cy="849.7" r="9.6" fill="#fff" stroke="#444" stroke-width="2.8"/>
<circle cx="1706.5" cy="849.6" r="9.6" fill="#fff" stroke="#444" stroke-width="2.8"/>
<circle cx="1708.3" cy="851.6" r="9.6" fill="#fff" stroke="#444" stroke-width="2.8"/>
<circle cx="1710.4" cy="849.0" r="9.6" fill="#fff" stroke="#444" stroke-width="2.8"/>
<circle cx="1712.1" cy="852.9" r="9.6" fill="#fff" stroke="#444" stroke-width="2.8"/>
<circle cx="1715.0" cy="850.1" r="9.6" fill="#fff" stroke="#444" stroke-width="2.8"/>
<circle cx="1716.9" cy="850.7" r="9.6" fill="#fff" stroke="#444" stroke-width="2.8"/>
<circle cx="1718.8" cy="850.3" r="9.6" fill="#fff" stroke="#444" stroke-width="2.8"/>
<circle cx="1721.1" cy="849.1" r="9.6" fill="#fff" stroke="#444" stroke-width="2.8"/>
<circle cx="1724.7" cy="849.7" r="9.6" fill="#fff" stroke="#444" stroke-width="2.8"/>
<circle cx="1727.2" cy="853.4" r="9.6" fill="#fff" stroke="#444" stroke-width="2.8"/>
<circle cx="1728.0" cy="854.2" r="9.6" fill="#fff" stroke="#444" stroke-width="2.8"/>
<circle cx="1730.1" cy="850.9" r="9.6" fill="#fff" stroke="#444" stroke-width="2.8"/>
<circle cx="1732.8" cy="853.5" r="9.6" fill="#fff" stroke="#444" stroke-width="2.8"/>
<circle cx="1734.9" cy="852.3" r="9.6" fill="#fff" stroke="#444" stroke-width="2.8"/>
<circle cx="1737.3" cy="851.2" r="9.6" fill="#fff" stroke="#444" stroke-width="2.8"/>
<circle cx="1740.3" cy="854.7" r="9.6" fill="#fff" stroke="#444" stroke-width="2.8"/>
<circle cx="1742.3" cy="855.4" r="9.6" fill="#fff" stroke="#444" stroke-width="2.8"/>
<circle cx="1744.6" cy="852.3" r="9.6" fill="#fff" stroke="#444" stroke-width="2.8"/>
<circle cx="1746.5" cy="852.7" r="9.6" fill="#fff" stroke="#444" stroke-width="2.8"/>
<circle cx="1749.6" cy="853.2" r="9.6" fill="#fff" stroke="#444" stroke-width="2.8"/>
<circle cx="1751.2" cy="853.0" r="9.6" fill="#fff" stroke="#444" stroke-width="2.8"/>
<circle cx="1753.7" cy="854.3" r="9.6" fill="#fff" stroke="#444" stroke-width="2.8"/>
<circle cx="1756.1" cy="855.3" r="9.6" fill="#fff" stroke="#444" stroke-width="2.8"/>
<circle cx="1759.2" cy="853.6" r="9.6" fill="#fff" stroke="#444" stroke-width="2.8"/>
<circle cx="1760.3" cy="854.9" r="9.6" fill="#fff" stroke="#444" stroke-width="2.8"/>
<circle cx="1763.5" cy="855.9" r="9.6" fill="#fff" stroke="#444" stroke-width="2.8"/>
<circle cx="1765.0" cy="853.1" r="9.6" fill="#fff" stroke="#444" stroke-width="2.8"/>
<circle cx="1768.4" cy="854.0" r="9.6" fill="#fff" stroke="#444" stroke-width="2.8"/>
<circle cx="1769.8" cy="853.5" r="9.6" fill="#fff" stroke="#444" stroke-width="2.8"/>
<circle cx="1772.2" cy="855.6" r="9.6" fill="#fff" stroke="#444" stroke-width="2.8"/>
<circle cx="1775.2" cy="855.2" r="9.6" fill="#fff" stroke="#444" stroke-width="2.8"/>
<circle cx="1777.1" cy="855.8" r="9.6" fill="#fff" stroke="#444" stroke-width="2.8"/>
<circle cx="1778.4" cy="855.8" r="9.6" fill="#fff" stroke="#444" stroke-width="2.8"/>
<circle cx="1780.7" cy="854.5" r="9.6" fill="#fff" stroke="#444" stroke-width="2.8"/>
<circle cx="1784.6" cy="855.9" r="9.6" fill="#fff" stroke="#444" stroke-width="2.8"/>
<circle cx="1785.1" cy="854.5" r="9.6" fill="#fff" stroke="#444" stroke-width="2.8"/>
<circle cx="1787.9" cy="854.7" r="9.6" fill="#fff" stroke="#444" stroke-width="2.8"/>
<circle cx="1791.4" cy="852.5" r="9.6" fill="#fff" stroke="#444" stroke-width="2.8"/>
<circle cx="1792.0" cy="857.2" r="9.6" fill="#fff" stroke="#444" stroke-width="2.8"/>
<circle cx="1794.5" cy="854.2" r="9.6" fill="#fff" stroke="#444" stroke-width="2.8"/>
<circle cx="1796.9" cy="855.7" r="9.6" fill="#fff" stroke="#444" stroke-width="2.8"/>
<circle cx="1799.0" cy="855.6" r="9.6" fill="#fff" stroke="#444" stroke-width="2.8"/>
<circle cx="1802.0" cy="857.7" r="9.6" fill="#fff" stroke="#444" stroke-width="2.8"/>
<circle cx="1804.5" cy="856.4" r="9.6" fill="#fff" stroke="#444" stroke-width="2.8"/>
<circle cx="1806.3" cy="854.9" r="9.6" fill="#fff" stroke="#444" stroke-width="2.8"/>
<circle cx="1808.2" cy="856.1" r="9.6" fill="#fff" stroke="#444" stroke-width="2.8"/>
<circle cx="1811.8" cy="855.9" r="9.6" fill="#fff" stroke="#444" stroke-width="2.8"/>
<circle cx="1814.0" cy="856.5" r="9.6" fill="#fff" stroke="#444" stroke-width="2.8"/>
<circle cx="1815.9" cy="854.6" r="9.6" fill="#fff" stroke="#444" stroke-width="2.8"/>
<circle cx="1817.4" cy="856.4" r="9.6" fill="#fff" stroke="#444" stroke-width="2.8"/>
<circle cx="1820.4" cy="859.4" r="9.6" fill="#fff" stroke="#444" stroke-width="2.8"/>
<circle cx="1822.9" cy="857.5" r="9.6" fill="#fff" stroke="#444" stroke-width="2.8"/>
<circle cx="1824.8" cy="859.4" r="9.6" fill="#fff" stroke="#444" stroke-width="2.8"/>
<circle cx="1827.9" cy="861.3" r="9.6" fill="#fff" stroke="#444" stroke-width="2.8"/>
<circle cx="1829.3" cy="857.7" r="9.6" fill="#fff" stroke="#444" stroke-width="2.8"/>
<circle cx="1831.8" cy="855.4" r="9.6" fill="#fff" stroke="#444" stroke-width="2.8"/>
<circle cx="1833.4" cy="857.4" r="9.6" fill="#fff" stroke="#444" stroke-width="2.8"/>
<circle cx="1836.5" cy="859.4" r="9.6" fill="#fff" stroke="#444" stroke-width="2.8"/>
<circle cx="1839.2" cy="859.5" r="9.6" fill="#fff" stroke="#444" stroke-width="2.8"/>
<circle cx="1841.4" cy="857.1" r="9.6" fill="#fff" stroke="#444" stroke-width="2.8"/>
<circle cx="1842.8" cy="859.0" r="9.6" fill="#fff" stroke="#444" stroke-width="2.8"/>
<circle cx="1846.5" cy="859.7" r="9.6" fill="#fff" stroke="#444" stroke-width="2.8"/>
<circle cx="1848.3" cy="860.4" r="9.6" fill="#fff" stroke="#444" stroke-width="2.8"/>
<circle cx="1850.0" cy="860.9" r="9.6" fill="#fff" stroke="#444" stroke-width="2.8"/>
<circle cx="1852.3" cy="860.5" r="9.6" fill="#fff" stroke="#444" stroke-width="2.8"/>
<circle cx="1855.2" cy="861.4" r="9.6" fill="#fff" stroke="#444" stroke-width="2.8"/>
<path d="M1167.8 313.9L1177.8 332.9L1157.8 332.9Z" fill="#fff" stroke="#444" stroke-width="2.8" stroke-linejoin="miter"/>
<path d="M1172.6 376.2L1182.6 395.2L1162.6 395.2Z" fill="#fff" stroke="#444" stroke-width="2.8" stroke-linejoin="miter"/>
<path d="M1177.4 436.6L1187.4 455.6L1167.4 455.6Z" fill="#fff" stroke="#444" stroke-width="2.8" stroke-linejoin="miter"/>
<path d="M1180.6 487.3L1190.6 506.3L1170.6 506.3Z" fill="#fff" stroke="#444" stroke-width="2.8" stroke-linejoin="miter"/>
<path d="M1185.5 526.2L1195.5 545.2L1175.5 545.2Z" fill="#fff" stroke="#444" stroke-width="2.8" stroke-linejoin="miter"/>
<path d="M1191.0 557.4L1201.0 576.4L1181.0 576.4Z" fill="#fff" stroke="#444" stroke-width="2.8" stroke-linejoin="miter"/>
<path d="M1195.6 584.7L1205.6 603.7L1185.6 603.7Z" fill="#fff" stroke="#444" stroke-width="2.8" stroke-linejoin="miter"/>
<path d="M1199.1 604.1L1209.1 623.1L1189.1 623.1Z" fill="#fff" stroke="#444" stroke-width="2.8" stroke-linejoin="miter"/>
<path d="M1204.8 623.6L1214.8 642.6L1194.8 642.6Z" fill="#fff" stroke="#444" stroke-width="2.8" stroke-linejoin="miter"/>
<path d="M1208.4 641.2L1218.4 660.2L1198.4 660.2Z" fill="#fff" stroke="#444" stroke-width="2.8" stroke-linejoin="miter"/>
<path d="M1212.9 656.7L1222.9 675.7L1202.9 675.7Z" fill="#fff" stroke="#444" stroke-width="2.8" stroke-linejoin="miter"/>
<path d="M1218.2 671.0L1228.2 690.0L1208.2 690.0Z" fill="#fff" stroke="#444" stroke-width="2.8" stroke-linejoin="miter"/>
<path d="M1222.2 684.0L1232.2 703.0L1212.2 703.0Z" fill="#fff" stroke="#444" stroke-width="2.8" stroke-linejoin="miter"/>
<path d="M1226.8 695.6L1236.8 714.6L1216.8 714.6Z" fill="#fff" stroke="#444" stroke-width="2.8" stroke-linejoin="miter"/>
<path d="M1231.3 705.4L1241.3 724.4L1221.3 724.4Z" fill="#fff" stroke="#444" stroke-width="2.8" stroke-linejoin="miter"/>
<path d="M1235.9 713.3L1245.9 732.3L1225.9 732.3Z" fill="#fff" stroke="#444" stroke-width="2.8" stroke-linejoin="miter"/>
<path d="M1240.0 719.9L1250.0 738.9L1230.0 738.9Z" fill="#fff" stroke="#444" stroke-width="2.8" stroke-linejoin="miter"/>
<path d="M1244.4 725.8L1254.4 744.8L1234.4 744.8Z" fill="#fff" stroke="#444" stroke-width="2.8" stroke-linejoin="miter"/>
<path d="M1250.3 731.0L1260.3 750.0L1240.3 750.0Z" fill="#fff" stroke="#444" stroke-width="2.8" stroke-linejoin="miter"/>
<path d="M1254.5 735.9L1264.5 754.9L1244.5 754.9Z" fill="#fff" stroke="#444" stroke-width="2.8" stroke-linejoin="miter"/>
<path d="M1259.3 740.5L1269.3 759.5L1249.3 759.5Z" fill="#fff" stroke="#444" stroke-width="2.8" stroke-linejoin="miter"/>
<path d="M1264.1 745.3L1274.1 764.3L1254.1 764.3Z" fill="#fff" stroke="#444" stroke-width="2.8" stroke-linejoin="miter"/>
<path d="M1267.6 750.2L1277.6 769.2L1257.6 769.2Z" fill="#fff" stroke="#444" stroke-width="2.8" stroke-linejoin="miter"/>
<path d="M1272.2 754.8L1282.2 773.8L1262.2 773.8Z" fill="#fff" stroke="#444" stroke-width="2.8" stroke-linejoin="miter"/>
<path d="M1276.9 758.3L1286.9 777.3L1266.9 777.3Z" fill="#fff" stroke="#444" stroke-width="2.8" stroke-linejoin="miter"/>
<path d="M1281.5 761.3L1291.5 780.3L1271.5 780.3Z" fill="#fff" stroke="#444" stroke-width="2.8" stroke-linejoin="miter"/>
<path d="M1286.9 763.4L1296.9 782.4L1276.9 782.4Z" fill="#fff" stroke="#444" stroke-width="2.8" stroke-linejoin="miter"/>
<path d="M1290.8 765.6L1300.8 784.6L1280.8 784.6Z" fill="#fff" stroke="#444" stroke-width="2.8" stroke-linejoin="miter"/>
<path d="M1295.3 766.0L1305.3 785.0L1285.3 785.0Z" fill="#fff" stroke="#444" stroke-width="2.8" stroke-linejoin="miter"/>
<path d="M1300.5 767.7L1310.5 786.7L1290.5 786.7Z" fill="#fff" stroke="#444" stroke-width="2.8" stroke-linejoin="miter"/>
<path d="M1304.2 769.3L1314.2 788.3L1294.2 788.3Z" fill="#fff" stroke="#444" stroke-width="2.8" stroke-linejoin="miter"/>
<path d="M1308.6 771.1L1318.6 790.1L1298.6 790.1Z" fill="#fff" stroke="#444" stroke-width="2.8" stroke-linejoin="miter"/>
<path d="M1314.3 773.1L1324.3 792.1L1304.3 792.1Z" fill="#fff" stroke="#444" stroke-width="2.8" stroke-linejoin="miter"/>
<path d="M1319.0 774.7L1329.0 793.7L1309.0 793.7Z" fill="#fff" stroke="#444" stroke-width="2.8" stroke-linejoin="miter"/>
<path d="M1322.7 776.8L1332.7 795.8L1312.7 795.8Z" fill="#fff" stroke="#444" stroke-width="2.8" stroke-linejoin="miter"/>
<path d="M1327.9 778.7L1337.9 797.7L1317.9 797.7Z" fill="#fff" stroke="#444" stroke-width="2.8" stroke-linejoin="miter"/>
<path d="M1331.4 780.6L1341.4 799.6L1321.4 799.6Z" fill="#fff" stroke="#444" stroke-width="2.8" stroke-linejoin="miter"/>
<path d="M1336.7 782.0L1346.7 801.0L1326.7 801.0Z" fill="#fff" stroke="#444" stroke-width="2.8" stroke-linejoin="miter"/>
<path d="M1341.6 785.5L1351.6 804.5L1331.6 804.5Z" fill="#fff" stroke="#444" stroke-width="2.8" stroke-linejoin="miter"/>
<path d="M1343.3 787.5L1353.3 806.5L1333.3 806.5Z" fill="#fff" stroke="#444" stroke-width="2.8" stroke-linejoin="miter"/>
<path d="M1345.8 789.5L1355.8 808.5L1335.8 808.5Z" fill="#fff" stroke="#444" stroke-width="2.8" stroke-linejoin="miter"/>
<path d="M1348.5 791.1L1358.5 810.1L1338.5 810.1Z" fill="#fff" stroke="#444" stroke-width="2.8" stroke-linejoin="miter"/>
<path d="M1350.8 790.7L1360.8 809.7L1340.8 809.7Z" fill="#fff" stroke="#444" stroke-width="2.8" stroke-linejoin="miter"/>
<path d="M1352.3 793.2L1362.3 812.2L1342.3 812.2Z" fill="#fff" stroke="#444" stroke-width="2.8" stroke-linejoin="miter"/>
<path d="M1355.6 795.2L1365.6 814.2L1345.6 814.2Z" fill="#fff" stroke="#444" stroke-width="2.8" stroke-linejoin="miter"/>
<path d="M1356.7 797.2L1366.7 816.2L1346.7 816.2Z" fill="#fff" stroke="#444" stroke-width="2.8" stroke-linejoin="miter"/>
<path d="M1360.6 799.5L1370.6 818.5L1350.6 818.5Z" fill="#fff" stroke="#444" stroke-width="2.8" stroke-linejoin="miter"/>
<path d="M1361.5 800.0L1371.5 819.0L1351.5 819.0Z" fill="#fff" stroke="#444" stroke-width="2.8" stroke-linejoin="miter"/>
<path d="M1363.9 800.4L1373.9 819.4L1353.9 819.4Z" fill="#fff" stroke="#444" stroke-width="2.8" stroke-linejoin="miter"/>
<path d="M1366.1 803.2L1376.1 822.2L1356.1 822.2Z" fill="#fff" stroke="#444" stroke-width="2.8" stroke-linejoin="miter"/>
<path d="M1369.8 804.3L1379.8 823.3L1359.8 823.3Z" fill="#fff" stroke="#444" stroke-width="2.8" stroke-linejoin="miter"/>
<path d="M1370.8 805.6L1380.8 824.6L1360.8 824.6Z" fill="#fff" stroke="#444" stroke-width="2.8" stroke-linejoin="miter"/>
<path d="M1373.7 806.4L1383.7 825.4L1363.7 825.4Z" fill="#fff" stroke="#444" stroke-width="2.8" stroke-linejoin="miter"/>
<path d="M1376.7 809.4L1386.7 828.4L1366.7 828.4Z" fill="#fff" stroke="#444" stroke-width="2.8" stroke-linejoin="miter"/>
<path d="M1378.9 808.8L1388.9 827.8L1368.9 827.8Z" fill="#fff" stroke="#444" stroke-width="2.8" stroke-linejoin="miter"/>
<path d="M1379.6 810.4L1389.6 829.4L1369.6 829.4Z" fill="#fff" stroke="#444" stroke-width="2.8" stroke-linejoin="miter"/>
<path d="M1382.7 809.1L1392.7 828.1L1372.7 828.1Z" fill="#fff" stroke="#444" stroke-width="2.8" stroke-linejoin="miter"/>
<path d="M1385.2 811.9L1395.2 830.9L1375.2 830.9Z" fill="#fff" stroke="#444" stroke-width="2.8" stroke-linejoin="miter"/>
<path d="M1387.6 810.9L1397.6 829.9L1377.6 829.9Z" fill="#fff" stroke="#444" stroke-width="2.8" stroke-linejoin="miter"/>
<path d="M1389.3 810.4L1399.3 829.4L1379.3 829.4Z" fill="#fff" stroke="#444" stroke-width="2.8" stroke-linejoin="miter"/>
<path d="M1391.5 813.5L1401.5 832.5L1381.5 832.5Z" fill="#fff" stroke="#444" stroke-width="2.8" stroke-linejoin="miter"/>
<path d="M1393.2 814.5L1403.2 833.5L1383.2 833.5Z" fill="#fff" stroke="#444" stroke-width="2.8" stroke-linejoin="miter"/>
<path d="M1395.6 814.1L1405.6 833.1L1385.6 833.1Z" fill="#fff" stroke="#444" stroke-width="2.8" stroke-linejoin="miter"/>
<path d="M1398.8 814.9L1408.8 833.9L1388.8 833.9Z" fill="#fff" stroke="#444" stroke-width="2.8" stroke-linejoin="miter"/>
<path d="M1400.2 816.9L1410.2 835.9L1390.2 835.9Z" fill="#fff" stroke="#444" stroke-width="2.8" stroke-linejoin="miter"/>
<path d="M1402.8 815.4L1412.8 834.4L1392.8 834.4Z" fill="#fff" stroke="#444" stroke-width="2.8" stroke-linejoin="miter"/>
<path d="M1405.3 813.9L1415.3 832.9L1395.3 832.9Z" fill="#fff" stroke="#444" stroke-width="2.8" stroke-linejoin="miter"/>
<path d="M1407.1 817.5L1417.1 836.5L1397.1 836.5Z" fill="#fff" stroke="#444" stroke-width="2.8" stroke-linejoin="miter"/>
<path d="M1409.3 818.0L1419.3 837.0L1399.3 837.0Z" fill="#fff" stroke="#444" stroke-width="2.8" stroke-linejoin="miter"/>
<path d="M1413.3 819.6L1423.3 838.6L1403.3 838.6Z" fill="#fff" stroke="#444" stroke-width="2.8" stroke-linejoin="miter"/>
<path d="M1414.7 818.3L1424.7 837.3L1404.7 837.3Z" fill="#fff" stroke="#444" stroke-width="2.8" stroke-linejoin="miter"/>
<path d="M1416.5 820.9L1426.5 839.9L1406.5 839.9Z" fill="#fff" stroke="#444" stroke-width="2.8" stroke-linejoin="miter"/>
<path d="M1419.7 821.2L1429.7 840.2L1409.7 840.2Z" fill="#fff" stroke="#444" stroke-width="2.8" stroke-linejoin="miter"/>
<path d="M1420.7 818.5L1430.7 837.5L1410.7 837.5Z" fill="#fff" stroke="#444" stroke-width="2.8" stroke-linejoin="miter"/>
<path d="M1423.5 822.0L1433.5 841.0L1413.5 841.0Z" fill="#fff" stroke="#444" stroke-width="2.8" stroke-linejoin="miter"/>
<path d="M1427.1 819.8L1437.1 838.8L1417.1 838.8Z" fill="#fff" stroke="#444" stroke-width="2.8" stroke-linejoin="miter"/>
<path d="M1429.3 819.7L1439.3 838.7L1419.3 838.7Z" fill="#fff" stroke="#444" stroke-width="2.8" stroke-linejoin="miter"/>
<path d="M1431.1 821.9L1441.1 840.9L1421.1 840.9Z" fill="#fff" stroke="#444" stroke-width="2.8" stroke-linejoin="miter"/>
<path d="M1432.4 822.0L1442.4 841.0L1422.4 841.0Z" fill="#fff" stroke="#444" stroke-width="2.8" stroke-linejoin="miter"/>
<path d="M1435.1 820.6L1445.1 839.6L1425.1 839.6Z" fill="#fff" stroke="#444" stroke-width="2.8" stroke-linejoin="miter"/>
<path d="M1436.8 824.0L1446.8 843.0L1426.8 843.0Z" fill="#fff" stroke="#444" stroke-width="2.8" stroke-linejoin="miter"/>
<path d="M1439.5 825.1L1449.5 844.1L1429.5 844.1Z" fill="#fff" stroke="#444" stroke-width="2.8" stroke-linejoin="miter"/>
<path d="M1441.4 826.6L1451.4 845.6L1431.4 845.6Z" fill="#fff" stroke="#444" stroke-width="2.8" stroke-linejoin="miter"/>
<path d="M1443.9 825.1L1453.9 844.1L1433.9 844.1Z" fill="#fff" stroke="#444" stroke-width="2.8" stroke-linejoin="miter"/>
<path d="M1447.1 823.6L1457.1 842.6L1437.1 842.6Z" fill="#fff" stroke="#444" stroke-width="2.8" stroke-linejoin="miter"/>
<path d="M1448.4 824.8L1458.4 843.8L1438.4 843.8Z" fill="#fff" stroke="#444" stroke-width="2.8" stroke-linejoin="miter"/>
<path d="M1450.8 827.8L1460.8 846.8L1440.8 846.8Z" fill="#fff" stroke="#444" stroke-width="2.8" stroke-linejoin="miter"/>
<path d="M1454.5 828.2L1464.5 847.2L1444.5 847.2Z" fill="#fff" stroke="#444" stroke-width="2.8" stroke-linejoin="miter"/>
<path d="M1455.7 828.1L1465.7 847.1L1445.7 847.1Z" fill="#fff" stroke="#444" stroke-width="2.8" stroke-linejoin="miter"/>
<path d="M1458.0 827.5L1468.0 846.5L1448.0 846.5Z" fill="#fff" stroke="#444" stroke-width="2.8" stroke-linejoin="miter"/>
<path d="M1459.8 828.6L1469.8 847.6L1449.8 847.6Z" fill="#fff" stroke="#444" stroke-width="2.8" stroke-linejoin="miter"/>
<path d="M1463.4 828.5L1473.4 847.5L1453.4 847.5Z" fill="#fff" stroke="#444" stroke-width="2.8" stroke-linejoin="miter"/>
<path d="M1465.5 828.9L1475.5 847.9L1455.5 847.9Z" fill="#fff" stroke="#444" stroke-width="2.8" stroke-linejoin="miter"/>
<path d="M1467.6 830.1L1477.6 849.1L1457.6 849.1Z" fill="#fff" stroke="#444" stroke-width="2.8" stroke-linejoin="miter"/>
<path d="M1470.0 830.2L1480.0 849.2L1460.0 849.2Z" fill="#fff" stroke="#444" stroke-width="2.8" stroke-linejoin="miter"/>
<path d="M1471.3 830.4L1481.3 849.4L1461.3 849.4Z" fill="#fff" stroke="#444" stroke-width="2.8" stroke-linejoin="miter"/>
<path d="M1473.9 831.3L1483.9 850.3L1463.9 850.3Z" fill="#fff" stroke="#444" stroke-width="2.8" stroke-linejoin="miter"/>
<path d="M1476.8 831.0L1486.8 850.0L1466.8 850.0Z" fill="#fff" stroke="#444" stroke-width="2.8" stroke-linejoin="miter"/>
<path d="M1479.8 829.6L1489.8 848.6L1469.8 848.6Z" fill="#fff" stroke="#444" stroke-width="2.8" stroke-linejoin="miter"/>
<path d="M1481.8 831.9L1491.8 850.9L1471.8 850.9Z" fill="#fff" stroke="#444" stroke-width="2.8" stroke-linejoin="miter"/>
<path d="M1483.8 833.1L1493.8 852.1L1473.8 852.1Z" fill="#fff" stroke="#444" stroke-width="2.8" stroke-linejoin="miter"/>
<path d="M1485.8 836.1L1495.8 855.1L1475.8 855.1Z" fill="#fff" stroke="#444" stroke-width="2.8" stroke-linejoin="miter"/>
<path d="M1487.2 833.8L1497.2 852.8L1477.2 852.8Z" fill="#fff" stroke="#444" stroke-width="2.8" stroke-linejoin="miter"/>
<path d="M1491.1 837.6L1501.1 856.6L1481.1 856.6Z" fill="#fff" stroke="#444" stroke-width="2.8" stroke-linejoin="miter"/>
<path d="M1491.9 837.4L1501.9 856.4L1481.9 856.4Z" fill="#fff" stroke="#444" stroke-width="2.8" stroke-linejoin="miter"/>
<path d="M1494.3 834.9L1504.3 853.9L1484.3 853.9Z" fill="#fff" stroke="#444" stroke-width="2.8" stroke-linejoin="miter"/>
<path d="M1497.6 835.7L1507.6 854.7L1487.6 854.7Z" fill="#fff" stroke="#444" stroke-width="2.8" stroke-linejoin="miter"/>
<path d="M1500.1 837.4L1510.1 856.4L1490.1 856.4Z" fill="#fff" stroke="#444" stroke-width="2.8" stroke-linejoin="miter"/>
<path d="M1502.4 840.1L1512.4 859.1L1492.4 859.1Z" fill="#fff" stroke="#444" stroke-width="2.8" stroke-linejoin="miter"/>
<path d="M1504.1 838.9L1514.1 857.9L1494.1 857.9Z" fill="#fff" stroke="#444" stroke-width="2.8" stroke-linejoin="miter"/>
<path d="M1505.8 839.8L1515.8 858.8L1495.8 858.8Z" fill="#fff" stroke="#444" stroke-width="2.8" stroke-linejoin="miter"/>
<path d="M1507.9 838.6L1517.9 857.6L1497.9 857.6Z" fill="#fff" stroke="#444" stroke-width="2.8" stroke-linejoin="miter"/>
<path d="M1511.7 836.9L1521.7 855.9L1501.7 855.9Z" fill="#fff" stroke="#444" stroke-width="2.8" stroke-linejoin="miter"/>
<path d="M1514.2 840.2L1524.2 859.2L1504.2 859.2Z" fill="#fff" stroke="#444" stroke-width="2.8" stroke-linejoin="miter"/>
<path d="M1515.1 842.1L1525.1 861.1L1505.1 861.1Z" fill="#fff" stroke="#444" stroke-width="2.8" stroke-linejoin="miter"/>
<path d="M1518.6 843.1L1528.6 862.1L1508.6 862.1Z" fill="#fff" stroke="#444" stroke-width="2.8" stroke-linejoin="miter"/>
<path d="M1520.0 842.1L1530.0 861.1L1510.0 861.1Z" fill="#fff" stroke="#444" stroke-width="2.8" stroke-linejoin="miter"/>
<path d="M1522.1 842.7L1532.1 861.7L1512.1 861.7Z" fill="#fff" stroke="#444" stroke-width="2.8" stroke-linejoin="miter"/>
<path d="M1524.8 844.5L1534.8 863.5L1514.8 863.5Z" fill="#fff" stroke="#444" stroke-width="2.8" stroke-linejoin="miter"/>
<path d="M1526.2 843.2L1536.2 862.2L1516.2 862.2Z" fill="#fff" stroke="#444" stroke-width="2.8" stroke-linejoin="miter"/>
<path d="M1529.2 845.4L1539.2 864.4L1519.2 864.4Z" fill="#fff" stroke="#444" stroke-width="2.8" stroke-linejoin="miter"/>
<path d="M1531.1 842.8L1541.1 861.8L1521.1 861.8Z" fill="#fff" stroke="#444" stroke-width="2.8" stroke-linejoin="miter"/>
<path d="M1534.3 843.3L1544.3 862.3L1524.3 862.3Z" fill="#fff" stroke="#444" stroke-width="2.8" stroke-linejoin="miter"/>
<path d="M1536.2 843.7L1546.2 862.7L1526.2 862.7Z" fill="#fff" stroke="#444" stroke-width="2.8" stroke-linejoin="miter"/>
<path d="M1539.2 846.2L1549.2 865.2L1529.2 865.2Z" fill="#fff" stroke="#444" stroke-width="2.8" stroke-linejoin="miter"/>
<path d="M1541.5 845.3L1551.5 864.3L1531.5 864.3Z" fill="#fff" stroke="#444" stroke-width="2.8" stroke-linejoin="miter"/>
<path d="M1542.8 846.6L1552.8 865.6L1532.8 865.6Z" fill="#fff" stroke="#444" stroke-width="2.8" stroke-linejoin="miter"/>
<path d="M1545.0 847.4L1555.0 866.4L1535.0 866.4Z" fill="#fff" stroke="#444" stroke-width="2.8" stroke-linejoin="miter"/>
<path d="M1548.5 847.7L1558.5 866.7L1538.5 866.7Z" fill="#fff" stroke="#444" stroke-width="2.8" stroke-linejoin="miter"/>
<path d="M1550.0 849.5L1560.0 868.5L1540.0 868.5Z" fill="#fff" stroke="#444" stroke-width="2.8" stroke-linejoin="miter"/>
<path d="M1551.5 850.1L1561.5 869.1L1541.5 869.1Z" fill="#fff" stroke="#444" stroke-width="2.8" stroke-linejoin="miter"/>
<path d="M1553.7 847.4L1563.7 866.4L1543.7 866.4Z" fill="#fff" stroke="#444" stroke-width="2.8" stroke-linejoin="miter"/>
<path d="M1557.7 849.2L1567.7 868.2L1547.7 868.2Z" fill="#fff" stroke="#444" stroke-width="2.8" stroke-linejoin="miter"/>
<path d="M1559.3 849.0L1569.3 868.0L1549.3 868.0Z" fill="#fff" stroke="#444" stroke-width="2.8" stroke-linejoin="miter"/>
<path d="M1560.6 848.4L1570.6 867.4L1550.6 867.4Z" fill="#fff" stroke="#444" stroke-width="2.8" stroke-linejoin="miter"/>
<path d="M1563.7 852.5L1573.7 871.5L1553.7 871.5Z" fill="#fff" stroke="#444" stroke-width="2.8" stroke-linejoin="miter"/>
<path d="M1566.0 851.6L1576.0 870.6L1556.0 870.6Z" fill="#fff" stroke="#444" stroke-width="2.8" stroke-linejoin="miter"/>
<path d="M1568.2 850.7L1578.2 869.7L1558.2 869.7Z" fill="#fff" stroke="#444" stroke-width="2.8" stroke-linejoin="miter"/>
<path d="M1571.4 850.9L1581.4 869.9L1561.4 869.9Z" fill="#fff" stroke="#444" stroke-width="2.8" stroke-linejoin="miter"/>
<path d="M1573.7 852.3L1583.7 871.3L1563.7 871.3Z" fill="#fff" stroke="#444" stroke-width="2.8" stroke-linejoin="miter"/>
<path d="M1574.5 850.8L1584.5 869.8L1564.5 869.8Z" fill="#fff" stroke="#444" stroke-width="2.8" stroke-linejoin="miter"/>
<path d="M1576.8 852.3L1586.8 871.3L1566.8 871.3Z" fill="#fff" stroke="#444" stroke-width="2.8" stroke-linejoin="miter"/>
<path d="M1579.6 854.7L1589.6 873.7L1569.6 873.7Z" fill="#fff" stroke="#444" stroke-width="2.8" stroke-linejoin="miter"/>
<path d="M1582.7 854.7L1592.7 873.7L1572.7 873.7Z" fill="#fff" stroke="#444" stroke-width="2.8" stroke-linejoin="miter"/>
<path d="M1584.6 852.8L1594.6 871.8L1574.6 871.8Z" fill="#fff" stroke="#444" stroke-width="2.8" stroke-linejoin="miter"/>
<path d="M1587.1 853.7L1597.1 872.7L1577.1 872.7Z" fill="#fff" stroke="#444" stroke-width="2.8" stroke-linejoin="miter"/>
<path d="M1589.1 857.4L1599.1 876.4L1579.1 876.4Z" fill="#fff" stroke="#444" stroke-width="2.8" stroke-linejoin="miter"/>
<path d="M1590.7 853.4L1600.7 872.4L1580.7 872.4Z" fill="#fff" stroke="#444" stroke-width="2.8" stroke-linejoin="miter"/>
<path d="M1594.1 854.9L1604.1 873.9L1584.1 873.9Z" fill="#fff" stroke="#444" stroke-width="2.8" stroke-linejoin="miter"/>
<path d="M1594.9 854.3L1604.9 873.3L1584.9 873.3Z" fill="#fff" stroke="#444" stroke-width="2.8" stroke-linejoin="miter"/>
<path d="M1598.5 857.1L1608.5 876.1L1588.5 876.1Z" fill="#fff" stroke="#444" stroke-width="2.8" stroke-linejoin="miter"/>
<path d="M1599.8 857.5L1609.8 876.5L1589.8 876.5Z" fill="#fff" stroke="#444" stroke-width="2.8" stroke-linejoin="miter"/>
<path d="M1602.6 859.0L1612.6 878.0L1592.6 878.0Z" fill="#fff" stroke="#444" stroke-width="2.8" stroke-linejoin="miter"/>
<path d="M1605.8 854.5L1615.8 873.5L1595.8 873.5Z" fill="#fff" stroke="#444" stroke-width="2.8" stroke-linejoin="miter"/>
<path d="M1607.3 858.7L1617.3 877.7L1597.3 877.7Z" fill="#fff" stroke="#444" stroke-width="2.8" stroke-linejoin="miter"/>
<path d="M1608.7 856.7L1618.7 875.7L1598.7 875.7Z" fill="#fff" stroke="#444" stroke-width="2.8" stroke-linejoin="miter"/>
<path d="M1611.7 860.3L1621.7 879.3L1601.7 879.3Z" fill="#fff" stroke="#444" stroke-width="2.8" stroke-linejoin="miter"/>
<path d="M1614.4 859.6L1624.4 878.6L1604.4 878.6Z" fill="#fff" stroke="#444" stroke-width="2.8" stroke-linejoin="miter"/>
<path d="M1615.6 862.6L1625.6 881.6L1605.6 881.6Z" fill="#fff" stroke="#444" stroke-width="2.8" stroke-linejoin="miter"/>
<path d="M1618.3 861.3L1628.3 880.3L1608.3 880.3Z" fill="#fff" stroke="#444" stroke-width="2.8" stroke-linejoin="miter"/>
<path d="M1620.1 859.9L1630.1 878.9L1610.1 878.9Z" fill="#fff" stroke="#444" stroke-width="2.8" stroke-linejoin="miter"/>
<path d="M1623.4 863.4L1633.4 882.4L1613.4 882.4Z" fill="#fff" stroke="#444" stroke-width="2.8" stroke-linejoin="miter"/>
<path d="M1625.4 860.7L1635.4 879.7L1615.4 879.7Z" fill="#fff" stroke="#444" stroke-width="2.8" stroke-linejoin="miter"/>
<path d="M1627.9 862.1L1637.9 881.1L1617.9 881.1Z" fill="#fff" stroke="#444" stroke-width="2.8" stroke-linejoin="miter"/>
<path d="M1629.8 864.4L1639.8 883.4L1619.8 883.4Z" fill="#fff" stroke="#444" stroke-width="2.8" stroke-linejoin="miter"/>
<path d="M1632.7 864.1L1642.7 883.1L1622.7 883.1Z" fill="#fff" stroke="#444" stroke-width="2.8" stroke-linejoin="miter"/>
<path d="M1634.2 864.5L1644.2 883.5L1624.2 883.5Z" fill="#fff" stroke="#444" stroke-width="2.8" stroke-linejoin="miter"/>
<path d="M1637.8 864.4L1647.8 883.4L1627.8 883.4Z" fill="#fff" stroke="#444" stroke-width="2.8" stroke-linejoin="miter"/>
<path d="M1640.2 865.4L1650.2 884.4L1630.2 884.4Z" fill="#fff" stroke="#444" stroke-width="2.8" stroke-linejoin="miter"/>
<path d="M1641.6 866.3L1651.6 885.3L1631.6 885.3Z" fill="#fff" stroke="#444" stroke-width="2.8" stroke-linejoin="miter"/>
<path d="M1643.9 865.9L1653.9 884.9L1633.9 884.9Z" fill="#fff" stroke="#444" stroke-width="2.8" stroke-linejoin="miter"/>
<path d="M1646.9 867.3L1656.9 886.3L1636.9 886.3Z" fill="#fff" stroke="#444" stroke-width="2.8" stroke-linejoin="miter"/>
<path d="M1648.1 868.1L1658.1 887.1L1638.1 887.1Z" fill="#fff" stroke="#444" stroke-width="2.8" stroke-linejoin="miter"/>
<path d="M1651.3 866.7L1661.3 885.7L1641.3 885.7Z" fill="#fff" stroke="#444" stroke-width="2.8" stroke-linejoin="miter"/>
<path d="M1652.7 865.8L1662.7 884.8L1642.7 884.8Z" fill="#fff" stroke="#444" stroke-width="2.8" stroke-linejoin="miter"/>
<path d="M1655.8 869.5L1665.8 888.5L1645.8 888.5Z" fill="#fff" stroke="#444" stroke-width="2.8" stroke-linejoin="miter"/>
<path d="M1657.4 867.7L1667.4 886.7L1647.4 886.7Z" fill="#fff" stroke="#444" stroke-width="2.8" stroke-linejoin="miter"/>
<path d="M1660.1 868.9L1670.1 887.9L1650.1 887.9Z" fill="#fff" stroke="#444" stroke-width="2.8" stroke-linejoin="miter"/>
<path d="M1663.0 869.7L1673.0 888.7L1653.0 888.7Z" fill="#fff" stroke="#444" stroke-width="2.8" stroke-linejoin="miter"/>
<path d="M1663.7 867.5L1673.7 886.5L1653.7 886.5Z" fill="#fff" stroke="#444" stroke-width="2.8" stroke-linejoin="miter"/>
<path d="M1667.4 869.7L1677.4 888.7L1657.4 888.7Z" fill="#fff" stroke="#444" stroke-width="2.8" stroke-linejoin="miter"/>
<path d="M1669.2 867.2L1679.2 886.2L1659.2 886.2Z" fill="#fff" stroke="#444" stroke-width="2.8" stroke-linejoin="miter"/>
<path d="M1671.2 870.6L1681.2 889.6L1661.2 889.6Z" fill="#fff" stroke="#444" stroke-width="2.8" stroke-linejoin="miter"/>
<path d="M1673.4 869.2L1683.4 888.2L1663.4 888.2Z" fill="#fff" stroke="#444" stroke-width="2.8" stroke-linejoin="miter"/>
<path d="M1675.2 870.3L1685.2 889.3L1665.2 889.3Z" fill="#fff" stroke="#444" stroke-width="2.8" stroke-linejoin="miter"/>
<path d="M1677.8 871.2L1687.8 890.2L1667.8 890.2Z" fill="#fff" stroke="#444" stroke-width="2.8" stroke-linejoin="miter"/>
<path d="M1680.8 869.6L1690.8 888.6L1670.8 888.6Z" fill="#fff" stroke="#444" stroke-width="2.8" stroke-linejoin="miter"/>
<path d="M1682.1 870.9L1692.1 889.9L1672.1 889.9Z" fill="#fff" stroke="#444" stroke-width="2.8" stroke-linejoin="miter"/>
<path d="M1685.5 870.0L1695.5 889.0L1675.5 889.0Z" fill="#fff" stroke="#444" stroke-width="2.8" stroke-linejoin="miter"/>
<path d="M1688.3 871.2L1698.3 890.2L1678.3 890.2Z" fill="#fff" stroke="#444" stroke-width="2.8" stroke-linejoin="miter"/>
<path d="M1690.6 872.8L1700.6 891.8L1680.6 891.8Z" fill="#fff" stroke="#444" stroke-width="2.8" stroke-linejoin="miter"/>
<path d="M1692.8 871.7L1702.8 890.7L1682.8 890.7Z" fill="#fff" stroke="#444" stroke-width="2.8" stroke-linejoin="miter"/>
<path d="M1694.9 871.7L1704.9 890.7L1684.9 890.7Z" fill="#fff" stroke="#444" stroke-width="2.8" stroke-linejoin="miter"/>
<path d="M1696.0 870.7L1706.0 889.7L1686.0 889.7Z" fill="#fff" stroke="#444" stroke-width="2.8" stroke-linejoin="miter"/>
<path d="M1699.8 873.4L1709.8 892.4L1689.8 892.4Z" fill="#fff" stroke="#444" stroke-width="2.8" stroke-linejoin="miter"/>
<path d="M1700.7 872.5L1710.7 891.5L1690.7 891.5Z" fill="#fff" stroke="#444" stroke-width="2.8" stroke-linejoin="miter"/>
<path d="M1704.2 875.0L1714.2 894.0L1694.2 894.0Z" fill="#fff" stroke="#444" stroke-width="2.8" stroke-linejoin="miter"/>
<path d="M1706.5 872.1L1716.5 891.1L1696.5 891.1Z" fill="#fff" stroke="#444" stroke-width="2.8" stroke-linejoin="miter"/>
<path d="M1708.3 874.7L1718.3 893.7L1698.3 893.7Z" fill="#fff" stroke="#444" stroke-width="2.8" stroke-linejoin="miter"/>
<path d="M1710.4 876.0L1720.4 895.0L1700.4 895.0Z" fill="#fff" stroke="#444" stroke-width="2.8" stroke-linejoin="miter"/>
<path d="M1712.1 873.9L1722.1 892.9L1702.1 892.9Z" fill="#fff" stroke="#444" stroke-width="2.8" stroke-linejoin="miter"/>
<path d="M1715.0 872.6L1725.0 891.6L1705.0 891.6Z" fill="#fff" stroke="#444" stroke-width="2.8" stroke-linejoin="miter"/>
<path d="M1716.9 876.5L1726.9 895.5L1706.9 895.5Z" fill="#fff" stroke="#444" stroke-width="2.8" stroke-linejoin="miter"/>
<path d="M1718.8 876.2L1728.8 895.2L1708.8 895.2Z" fill="#fff" stroke="#444" stroke-width="2.8" stroke-linejoin="miter"/>
<path d="M1721.1 876.0L1731.1 895.0L1711.1 895.0Z" fill="#fff" stroke="#444" stroke-width="2.8" stroke-linejoin="miter"/>
<path d="M1724.7 876.9L1734.7 895.9L1714.7 895.9Z" fill="#fff" stroke="#444" stroke-width="2.8" stroke-linejoin="miter"/>
<path d="M1727.2 875.1L1737.2 894.1L1717.2 894.1Z" fill="#fff" stroke="#444" stroke-width="2.8" stroke-linejoin="miter"/>
<path d="M1728.0 877.1L1738.0 896.1L1718.0 896.1Z" fill="#fff" stroke="#444" stroke-width="2.8" stroke-linejoin="miter"/>
<path d="M1730.1 877.3L1740.1 896.3L1720.1 896.3Z" fill="#fff" stroke="#444" stroke-width="2.8" stroke-linejoin="miter"/>
<path d="M1732.8 875.8L1742.8 894.8L1722.8 894.8Z" fill="#fff" stroke="#444" stroke-width="2.8" stroke-linejoin="miter"/>
<path d="M1734.9 878.0L1744.9 897.0L1724.9 897.0Z" fill="#fff" stroke="#444" stroke-width="2.8" stroke-linejoin="miter"/>
<path d="M1737.3 876.7L1747.3 895.7L1727.3 895.7Z" fill="#fff" stroke="#444" stroke-width="2.8" stroke-linejoin="miter"/>
<path d="M1740.3 878.9L1750.3 897.9L1730.3 897.9Z" fill="#fff" stroke="#444" stroke-width="2.8" stroke-linejoin="miter"/>
<path d="M1742.3 879.6L1752.3 898.6L1732.3 898.6Z" fill="#fff" stroke="#444" stroke-width="2.8" stroke-linejoin="miter"/>
<path d="M1744.6 880.8L1754.6 899.8L1734.6 899.8Z" fill="#fff" stroke="#444" stroke-width="2.8" stroke-linejoin="miter"/>
<path d="M1746.5 876.1L1756.5 895.1L1736.5 895.1Z" fill="#fff" stroke="#444" stroke-width="2.8" stroke-linejoin="miter"/>
<path d="M1749.6 879.4L1759.6 898.4L1739.6 898.4Z" fill="#fff" stroke="#444" stroke-width="2.8" stroke-linejoin="miter"/>
<path d="M1751.2 879.0L1761.2 898.0L1741.2 898.0Z" fill="#fff" stroke="#444" stroke-width="2.8" stroke-linejoin="miter"/>
<path d="M1753.7 879.7L1763.7 898.7L1743.7 898.7Z" fill="#fff" stroke="#444" stroke-width="2.8" stroke-linejoin="miter"/>
<path d="M1756.1 879.9L1766.1 898.9L1746.1 898.9Z" fill="#fff" stroke="#444" stroke-width="2.8" stroke-linejoin="miter"/>
<path d="M1759.2 880.4L1769.2 899.4L1749.2 899.4Z" fill="#fff" stroke="#444" stroke-width="2.8" stroke-linejoin="miter"/>
<path d="M1760.3 878.3L1770.3 897.3L1750.3 897.3Z" fill="#fff" stroke="#444" stroke-width="2.8" stroke-linejoin="miter"/>
<path d="M1763.5 882.7L1773.5 901.7L1753.5 901.7Z" fill="#fff" stroke="#444" stroke-width="2.8" stroke-linejoin="miter"/>
<path d="M1765.0 883.8L1775.0 902.8L1755.0 902.8Z" fill="#fff" stroke="#444" stroke-width="2.8" stroke-linejoin="miter"/>
<path d="M1768.4 883.4L1778.4 902.4L1758.4 902.4Z" fill="#fff" stroke="#444" stroke-width="2.8" stroke-linejoin="miter"/>
<path d="M1769.8 884.3L1779.8 903.3L1759.8 903.3Z" fill="#fff" stroke="#444" stroke-width="2.8" stroke-linejoin="miter"/>
<path d="M1772.2 881.8L1782.2 900.8L1762.2 900.8Z" fill="#fff" stroke="#444" stroke-width="2.8" stroke-linejoin="miter"/>
<path d="M1775.2 882.1L1785.2 901.1L1765.2 901.1Z" fill="#fff" stroke="#444" stroke-width="2.8" stroke-linejoin="miter"/>
<path d="M1777.1 884.9L1787.1 903.9L1767.1 903.9Z" fill="#fff" stroke="#444" stroke-width="2.8" stroke-linejoin="miter"/>
<path d="M1778.4 885.9L1788.4 904.9L1768.4 904.9Z" fill="#fff" stroke="#444" stroke-width="2.8" stroke-linejoin="miter"/>
<path d="M1780.7 884.8L1790.7 903.8L1770.7 903.8Z" fill="#fff" stroke="#444" stroke-width="2.8" stroke-linejoin="miter"/>
<path d="M1784.6 882.8L1794.6 901.8L1774.6 901.8Z" fill="#fff" stroke="#444" stroke-width="2.8" stroke-linejoin="miter"/>
<path d="M1785.1 888.8L1795.1 907.8L1775.1 907.8Z" fill="#fff" stroke="#444" stroke-width="2.8" stroke-linejoin="miter"/>
<path d="M1787.9 884.5L1797.9 903.5L1777.9 903.5Z" fill="#fff" stroke="#444" stroke-width="2.8" stroke-linejoin="miter"/>
<path d="M1791.4 887.0L1801.4 906.0L1781.4 906.0Z" fill="#fff" stroke="#444" stroke-width="2.8" stroke-linejoin="miter"/>
<path d="M1792.0 884.4L1802.0 903.4L1782.0 903.4Z" fill="#fff" stroke="#444" stroke-width="2.8" stroke-linejoin="miter"/>
<path d="M1794.5 887.5L1804.5 906.5L1784.5 906.5Z" fill="#fff" stroke="#444" stroke-width="2.8" stroke-linejoin="miter"/>
<path d="M1796.9 886.7L1806.9 905.7L1786.9 905.7Z" fill="#fff" stroke="#444" stroke-width="2.8" stroke-linejoin="miter"/>
<path d="M1799.0 888.6L1809.0 907.6L1789.0 907.6Z" fill="#fff" stroke="#444" stroke-width="2.8" stroke-linejoin="miter"/>
<path d="M1802.0 888.1L1812.0 907.1L1792.0 907.1Z" fill="#fff" stroke="#444" stroke-width="2.8" stroke-linejoin="miter"/>
<path d="M1804.5 885.2L1814.5 904.2L1794.5 904.2Z" fill="#fff" stroke="#444" stroke-width="2.8" stroke-linejoin="miter"/>
<path d="M1806.3 886.2L1816.3 905.2L1796.3 905.2Z" fill="#fff" stroke="#444" stroke-width="2.8" stroke-linejoin="miter"/>
<path d="M1808.2 888.1L1818.2 907.1L1798.2 907.1Z" fill="#fff" stroke="#444" stroke-width="2.8" stroke-linejoin="miter"/>
<path d="M1811.8 888.9L1821.8 907.9L1801.8 907.9Z" fill="#fff" stroke="#444" stroke-width="2.8" stroke-linejoin="miter"/>
<path d="M1814.0 890.5L1824.0 909.5L1804.0 909.5Z" fill="#fff" stroke="#444" stroke-width="2.8" stroke-linejoin="miter"/>
<path d="M1815.9 888.7L1825.9 907.7L1805.9 907.7Z" fill="#fff" stroke="#444" stroke-width="2.8" stroke-linejoin="miter"/>
<path d="M1817.4 888.4L1827.4 907.4L1807.4 907.4Z" fill="#fff" stroke="#444" stroke-width="2.8" stroke-linejoin="miter"/>
<path d="M1820.4 888.7L1830.4 907.7L1810.4 907.7Z" fill="#fff" stroke="#444" stroke-width="2.8" stroke-linejoin="miter"/>
<path d="M1822.9 888.9L1832.9 907.9L1812.9 907.9Z" fill="#fff" stroke="#444" stroke-width="2.8" stroke-linejoin="miter"/>
<path d="M1824.8 890.4L1834.8 909.4L1814.8 909.4Z" fill="#fff" stroke="#444" stroke-width="2.8" stroke-linejoin="miter"/>
<path d="M1827.9 889.2L1837.9 908.2L1817.9 908.2Z" fill="#fff" stroke="#444" stroke-width="2.8" stroke-linejoin="miter"/>
<path d="M1829.3 889.3L1839.3 908.3L1819.3 908.3Z" fill="#fff" stroke="#444" stroke-width="2.8" stroke-linejoin="miter"/>
<path d="M1831.8 887.6L1841.8 906.6L1821.8 906.6Z" fill="#fff" stroke="#444" stroke-width="2.8" stroke-linejoin="miter"/>
<path d="M1833.4 887.0L1843.4 906.0L1823.4 906.0Z" fill="#fff" stroke="#444" stroke-width="2.8" stroke-linejoin="miter"/>
<path d="M1836.5 889.8L1846.5 908.8L1826.5 908.8Z" fill="#fff" stroke="#444" stroke-width="2.8" stroke-linejoin="miter"/>
<path d="M1839.2 890.8L1849.2 909.8L1829.2 909.8Z" fill="#fff" stroke="#444" stroke-width="2.8" stroke-linejoin="miter"/>
<path d="M1841.4 890.0L1851.4 909.0L1831.4 909.0Z" fill="#fff" stroke="#444" stroke-width="2.8" stroke-linejoin="miter"/>
<path d="M1842.8 890.8L1852.8 909.8L1832.8 909.8Z" fill="#fff" stroke="#444" stroke-width="2.8" stroke-linejoin="miter"/>
<path d="M1846.5 891.1L1856.5 910.1L1836.5 910.1Z" fill="#fff" stroke="#444" stroke-width="2.8" stroke-linejoin="miter"/>
<path d="M1848.3 890.3L1858.3 909.3L1838.3 909.3Z" fill="#fff" stroke="#444" stroke-width="2.8" stroke-linejoin="miter"/>
<path d="M1850.0 891.7L1860.0 910.7L1840.0 910.7Z" fill="#fff" stroke="#444" stroke-width="2.8" stroke-linejoin="miter"/>
<path d="M1852.3 889.6L1862.3 908.6L1842.3 908.6Z" fill="#fff" stroke="#444" stroke-width="2.8" stroke-linejoin="miter"/>
<path d="M1855.2 890.6L1865.2 909.6L1845.2 909.6Z" fill="#fff" stroke="#444" stroke-width="2.8" stroke-linejoin="miter"/>
<rect x="262.4" y="1072.4" width="29.5" height="29.5" fill="#fff" stroke="#111" stroke-width="3"/>
<rect x="263.3" y="1089.8" width="29.5" height="29.5" fill="#fff" stroke="#111" stroke-width="3"/>
<rect x="264.3" y="1120.5" width="29.5" height="29.5" fill="#fff" stroke="#111" stroke-width="3"/>
<rect x="265.3" y="1161.7" width="29.5" height="29.5" fill="#fff" stroke="#111" stroke-width="3"/>
<rect x="266.2" y="1196.6" width="29.5" height="29.5" fill="#fff" stroke="#111" stroke-width="3"/>
<rect x="267.2" y="1235.0" width="29.5" height="29.5" fill="#fff" stroke="#111" stroke-width="3"/>
<rect x="268.2" y="1273.4" width="29.5" height="29.5" fill="#fff" stroke="#111" stroke-width="3"/>
<rect x="269.1" y="1293.5" width="29.5" height="29.5" fill="#fff" stroke="#111" stroke-width="3"/>
<rect x="270.1" y="1323.4" width="29.5" height="29.5" fill="#fff" stroke="#111" stroke-width="3"/>
<rect x="271.1" y="1357.1" width="29.5" height="29.5" fill="#fff" stroke="#111" stroke-width="3"/>
<rect x="272.0" y="1379.9" width="29.5" height="29.5" fill="#fff" stroke="#111" stroke-width="3"/>
<rect x="273.0" y="1402.7" width="29.5" height="29.5" fill="#fff" stroke="#111" stroke-width="3"/>
<rect x="274.0" y="1425.6" width="29.5" height="29.5" fill="#fff" stroke="#111" stroke-width="3"/>
<rect x="274.9" y="1446.2" width="29.5" height="29.5" fill="#fff" stroke="#111" stroke-width="3"/>
<rect x="275.9" y="1462.6" width="29.5" height="29.5" fill="#fff" stroke="#111" stroke-width="3"/>
<rect x="276.9" y="1478.8" width="29.5" height="29.5" fill="#fff" stroke="#111" stroke-width="3"/>
<rect x="277.8" y="1496.1" width="29.5" height="29.5" fill="#fff" stroke="#111" stroke-width="3"/>
<rect x="278.8" y="1510.3" width="29.5" height="29.5" fill="#fff" stroke="#111" stroke-width="3"/>
<rect x="279.8" y="1522.1" width="29.5" height="29.5" fill="#fff" stroke="#111" stroke-width="3"/>
<rect x="280.7" y="1531.7" width="29.5" height="29.5" fill="#fff" stroke="#111" stroke-width="3"/>
<rect x="281.7" y="1539.7" width="29.5" height="29.5" fill="#fff" stroke="#111" stroke-width="3"/>
<rect x="282.7" y="1546.6" width="29.5" height="29.5" fill="#fff" stroke="#111" stroke-width="3"/>
<rect x="283.7" y="1552.3" width="29.5" height="29.5" fill="#fff" stroke="#111" stroke-width="3"/>
<rect x="284.6" y="1556.9" width="29.5" height="29.5" fill="#fff" stroke="#111" stroke-width="3"/>
<rect x="285.6" y="1560.8" width="29.5" height="29.5" fill="#fff" stroke="#111" stroke-width="3"/>
<rect x="286.6" y="1564.6" width="29.5" height="29.5" fill="#fff" stroke="#111" stroke-width="3"/>
<rect x="287.5" y="1568.5" width="29.5" height="29.5" fill="#fff" stroke="#111" stroke-width="3"/>
<rect x="288.5" y="1572.8" width="29.5" height="29.5" fill="#fff" stroke="#111" stroke-width="3"/>
<rect x="289.5" y="1577.1" width="29.5" height="29.5" fill="#fff" stroke="#111" stroke-width="3"/>
<rect x="290.4" y="1580.9" width="29.5" height="29.5" fill="#fff" stroke="#111" stroke-width="3"/>
<rect x="291.4" y="1583.9" width="29.5" height="29.5" fill="#fff" stroke="#111" stroke-width="3"/>
<rect x="292.4" y="1586.3" width="29.5" height="29.5" fill="#fff" stroke="#111" stroke-width="3"/>
<rect x="293.3" y="1588.4" width="29.5" height="29.5" fill="#fff" stroke="#111" stroke-width="3"/>
<rect x="294.3" y="1590.1" width="29.5" height="29.5" fill="#fff" stroke="#111" stroke-width="3"/>
<rect x="295.3" y="1591.7" width="29.5" height="29.5" fill="#fff" stroke="#111" stroke-width="3"/>
<rect x="296.2" y="1592.9" width="29.5" height="29.5" fill="#fff" stroke="#111" stroke-width="3"/>
<rect x="297.2" y="1593.9" width="29.5" height="29.5" fill="#fff" stroke="#111" stroke-width="3"/>
<rect x="298.2" y="1594.7" width="29.5" height="29.5" fill="#fff" stroke="#111" stroke-width="3"/>
<rect x="299.1" y="1595.6" width="29.5" height="29.5" fill="#fff" stroke="#111" stroke-width="3"/>
<rect x="300.1" y="1596.5" width="29.5" height="29.5" fill="#fff" stroke="#111" stroke-width="3"/>
<rect x="301.1" y="1597.7" width="29.5" height="29.5" fill="#fff" stroke="#111" stroke-width="3"/>
<rect x="302.0" y="1599.2" width="29.5" height="29.5" fill="#fff" stroke="#111" stroke-width="3"/>
<rect x="303.0" y="1600.4" width="29.5" height="29.5" fill="#fff" stroke="#111" stroke-width="3"/>
<rect x="304.0" y="1601.3" width="29.5" height="29.5" fill="#fff" stroke="#111" stroke-width="3"/>
<rect x="305.0" y="1601.4" width="29.5" height="29.5" fill="#fff" stroke="#111" stroke-width="3"/>
<rect x="305.9" y="1601.4" width="29.5" height="29.5" fill="#fff" stroke="#111" stroke-width="3"/>
<rect x="306.9" y="1601.4" width="29.5" height="29.5" fill="#fff" stroke="#111" stroke-width="3"/>
<rect x="307.9" y="1601.4" width="29.5" height="29.5" fill="#fff" stroke="#111" stroke-width="3"/>
<rect x="308.8" y="1601.4" width="29.5" height="29.5" fill="#fff" stroke="#111" stroke-width="3"/>
<rect x="309.8" y="1601.3" width="29.5" height="29.5" fill="#fff" stroke="#111" stroke-width="3"/>
<rect x="310.8" y="1601.0" width="29.5" height="29.5" fill="#fff" stroke="#111" stroke-width="3"/>
<rect x="311.7" y="1600.6" width="29.5" height="29.5" fill="#fff" stroke="#111" stroke-width="3"/>
<rect x="312.7" y="1600.2" width="29.5" height="29.5" fill="#fff" stroke="#111" stroke-width="3"/>
<rect x="313.7" y="1599.8" width="29.5" height="29.5" fill="#fff" stroke="#111" stroke-width="3"/>
<rect x="314.6" y="1599.2" width="29.5" height="29.5" fill="#fff" stroke="#111" stroke-width="3"/>
<rect x="315.6" y="1598.6" width="29.5" height="29.5" fill="#fff" stroke="#111" stroke-width="3"/>
<rect x="316.6" y="1598.1" width="29.5" height="29.5" fill="#fff" stroke="#111" stroke-width="3"/>
<rect x="317.5" y="1597.9" width="29.5" height="29.5" fill="#fff" stroke="#111" stroke-width="3"/>
<rect x="318.5" y="1598.1" width="29.5" height="29.5" fill="#fff" stroke="#111" stroke-width="3"/>
<rect x="319.5" y="1598.5" width="29.5" height="29.5" fill="#fff" stroke="#111" stroke-width="3"/>
<rect x="320.4" y="1593.5" width="29.5" height="29.5" fill="#fff" stroke="#111" stroke-width="3"/>
<rect x="335.0" y="1600.2" width="29.5" height="29.5" fill="#fff" stroke="#111" stroke-width="3"/>
<rect x="349.5" y="1617.3" width="29.5" height="29.5" fill="#fff" stroke="#111" stroke-width="3"/>
<rect x="364.0" y="1628.0" width="29.5" height="29.5" fill="#fff" stroke="#111" stroke-width="3"/>
<rect x="378.5" y="1634.1" width="29.5" height="29.5" fill="#fff" stroke="#111" stroke-width="3"/>
<rect x="393.1" y="1629.5" width="29.5" height="29.5" fill="#fff" stroke="#111" stroke-width="3"/>
<rect x="407.6" y="1629.0" width="29.5" height="29.5" fill="#fff" stroke="#111" stroke-width="3"/>
<rect x="422.1" y="1640.9" width="29.5" height="29.5" fill="#fff" stroke="#111" stroke-width="3"/>
<rect x="436.6" y="1639.0" width="29.5" height="29.5" fill="#fff" stroke="#111" stroke-width="3"/>
<rect x="451.2" y="1637.3" width="29.5" height="29.5" fill="#fff" stroke="#111" stroke-width="3"/>
<rect x="465.7" y="1641.9" width="29.5" height="29.5" fill="#fff" stroke="#111" stroke-width="3"/>
<rect x="480.2" y="1645.8" width="29.5" height="29.5" fill="#fff" stroke="#111" stroke-width="3"/>
<rect x="494.7" y="1650.1" width="29.5" height="29.5" fill="#fff" stroke="#111" stroke-width="3"/>
<rect x="509.3" y="1652.7" width="29.5" height="29.5" fill="#fff" stroke="#111" stroke-width="3"/>
<rect x="523.8" y="1655.3" width="29.5" height="29.5" fill="#fff" stroke="#111" stroke-width="3"/>
<rect x="538.3" y="1664.8" width="29.5" height="29.5" fill="#fff" stroke="#111" stroke-width="3"/>
<rect x="552.8" y="1670.9" width="29.5" height="29.5" fill="#fff" stroke="#111" stroke-width="3"/>
<rect x="567.4" y="1678.0" width="29.5" height="29.5" fill="#fff" stroke="#111" stroke-width="3"/>
<rect x="581.9" y="1678.7" width="29.5" height="29.5" fill="#fff" stroke="#111" stroke-width="3"/>
<rect x="596.4" y="1684.2" width="29.5" height="29.5" fill="#fff" stroke="#111" stroke-width="3"/>
<rect x="610.9" y="1683.8" width="29.5" height="29.5" fill="#fff" stroke="#111" stroke-width="3"/>
<rect x="625.5" y="1680.2" width="29.5" height="29.5" fill="#fff" stroke="#111" stroke-width="3"/>
<rect x="640.0" y="1682.3" width="29.5" height="29.5" fill="#fff" stroke="#111" stroke-width="3"/>
<rect x="654.5" y="1679.5" width="29.5" height="29.5" fill="#fff" stroke="#111" stroke-width="3"/>
<rect x="669.0" y="1678.6" width="29.5" height="29.5" fill="#fff" stroke="#111" stroke-width="3"/>
<rect x="683.6" y="1675.8" width="29.5" height="29.5" fill="#fff" stroke="#111" stroke-width="3"/>
<rect x="698.1" y="1675.0" width="29.5" height="29.5" fill="#fff" stroke="#111" stroke-width="3"/>
<rect x="712.6" y="1673.6" width="29.5" height="29.5" fill="#fff" stroke="#111" stroke-width="3"/>
<rect x="727.1" y="1675.8" width="29.5" height="29.5" fill="#fff" stroke="#111" stroke-width="3"/>
<rect x="741.6" y="1677.6" width="29.5" height="29.5" fill="#fff" stroke="#111" stroke-width="3"/>
<rect x="756.2" y="1678.6" width="29.5" height="29.5" fill="#fff" stroke="#111" stroke-width="3"/>
<rect x="770.7" y="1678.8" width="29.5" height="29.5" fill="#fff" stroke="#111" stroke-width="3"/>
<rect x="785.2" y="1680.4" width="29.5" height="29.5" fill="#fff" stroke="#111" stroke-width="3"/>
<rect x="799.7" y="1680.1" width="29.5" height="29.5" fill="#fff" stroke="#111" stroke-width="3"/>
<rect x="814.3" y="1681.2" width="29.5" height="29.5" fill="#fff" stroke="#111" stroke-width="3"/>
<rect x="828.8" y="1685.0" width="29.5" height="29.5" fill="#fff" stroke="#111" stroke-width="3"/>
<rect x="843.3" y="1689.9" width="29.5" height="29.5" fill="#fff" stroke="#111" stroke-width="3"/>
<rect x="857.8" y="1695.0" width="29.5" height="29.5" fill="#fff" stroke="#111" stroke-width="3"/>
<rect x="872.4" y="1693.9" width="29.5" height="29.5" fill="#fff" stroke="#111" stroke-width="3"/>
<rect x="886.9" y="1694.8" width="29.5" height="29.5" fill="#fff" stroke="#111" stroke-width="3"/>
<rect x="901.4" y="1693.7" width="29.5" height="29.5" fill="#fff" stroke="#111" stroke-width="3"/>
<rect x="915.9" y="1693.2" width="29.5" height="29.5" fill="#fff" stroke="#111" stroke-width="3"/>
<rect x="930.5" y="1693.6" width="29.5" height="29.5" fill="#fff" stroke="#111" stroke-width="3"/>
<rect x="945.0" y="1693.5" width="29.5" height="29.5" fill="#fff" stroke="#111" stroke-width="3"/>
<rect x="959.5" y="1690.2" width="29.5" height="29.5" fill="#fff" stroke="#111" stroke-width="3"/>
<rect x="974.0" y="1693.9" width="29.5" height="29.5" fill="#fff" stroke="#111" stroke-width="3"/>
<rect x="988.6" y="1691.8" width="29.5" height="29.5" fill="#fff" stroke="#111" stroke-width="3"/>
<rect x="1003.1" y="1686.7" width="29.5" height="29.5" fill="#fff" stroke="#111" stroke-width="3"/>
<rect x="1017.6" y="1688.6" width="29.5" height="29.5" fill="#fff" stroke="#111" stroke-width="3"/>
<rect x="1032.1" y="1687.4" width="29.5" height="29.5" fill="#fff" stroke="#111" stroke-width="3"/>
<rect x="1046.7" y="1689.1" width="29.5" height="29.5" fill="#fff" stroke="#111" stroke-width="3"/>
<rect x="1061.2" y="1690.6" width="29.5" height="29.5" fill="#fff" stroke="#111" stroke-width="3"/>
<rect x="1075.7" y="1691.2" width="29.5" height="29.5" fill="#fff" stroke="#111" stroke-width="3"/>
<rect x="1090.2" y="1691.5" width="29.5" height="29.5" fill="#fff" stroke="#111" stroke-width="3"/>
<rect x="1104.8" y="1691.0" width="29.5" height="29.5" fill="#fff" stroke="#111" stroke-width="3"/>
<rect x="1119.3" y="1693.3" width="29.5" height="29.5" fill="#fff" stroke="#111" stroke-width="3"/>
<rect x="1133.8" y="1689.7" width="29.5" height="29.5" fill="#fff" stroke="#111" stroke-width="3"/>
<rect x="1148.3" y="1689.0" width="29.5" height="29.5" fill="#fff" stroke="#111" stroke-width="3"/>
<rect x="1162.8" y="1686.3" width="29.5" height="29.5" fill="#fff" stroke="#111" stroke-width="3"/>
<rect x="1177.4" y="1687.5" width="29.5" height="29.5" fill="#fff" stroke="#111" stroke-width="3"/>
<rect x="1191.9" y="1686.3" width="29.5" height="29.5" fill="#fff" stroke="#111" stroke-width="3"/>
<rect x="1206.4" y="1687.1" width="29.5" height="29.5" fill="#fff" stroke="#111" stroke-width="3"/>
<rect x="1220.9" y="1690.4" width="29.5" height="29.5" fill="#fff" stroke="#111" stroke-width="3"/>
<rect x="1235.5" y="1694.4" width="29.5" height="29.5" fill="#fff" stroke="#111" stroke-width="3"/>
<rect x="1250.0" y="1697.9" width="29.5" height="29.5" fill="#fff" stroke="#111" stroke-width="3"/>
<rect x="1264.5" y="1701.7" width="29.5" height="29.5" fill="#fff" stroke="#111" stroke-width="3"/>
<rect x="1279.0" y="1703.7" width="29.5" height="29.5" fill="#fff" stroke="#111" stroke-width="3"/>
<rect x="1293.6" y="1705.5" width="29.5" height="29.5" fill="#fff" stroke="#111" stroke-width="3"/>
<rect x="1308.1" y="1704.0" width="29.5" height="29.5" fill="#fff" stroke="#111" stroke-width="3"/>
<rect x="1322.6" y="1704.6" width="29.5" height="29.5" fill="#fff" stroke="#111" stroke-width="3"/>
<rect x="1337.1" y="1703.7" width="29.5" height="29.5" fill="#fff" stroke="#111" stroke-width="3"/>
<rect x="1351.7" y="1707.0" width="29.5" height="29.5" fill="#fff" stroke="#111" stroke-width="3"/>
<rect x="1366.2" y="1703.1" width="29.5" height="29.5" fill="#fff" stroke="#111" stroke-width="3"/>
<rect x="1380.7" y="1706.0" width="29.5" height="29.5" fill="#fff" stroke="#111" stroke-width="3"/>
<rect x="1395.2" y="1705.9" width="29.5" height="29.5" fill="#fff" stroke="#111" stroke-width="3"/>
<rect x="1409.8" y="1705.0" width="29.5" height="29.5" fill="#fff" stroke="#111" stroke-width="3"/>
<rect x="1424.3" y="1705.6" width="29.5" height="29.5" fill="#fff" stroke="#111" stroke-width="3"/>
<rect x="1438.8" y="1704.2" width="29.5" height="29.5" fill="#fff" stroke="#111" stroke-width="3"/>
<rect x="1453.3" y="1705.8" width="29.5" height="29.5" fill="#fff" stroke="#111" stroke-width="3"/>
<rect x="1467.9" y="1710.4" width="29.5" height="29.5" fill="#fff" stroke="#111" stroke-width="3"/>
<rect x="1482.4" y="1715.1" width="29.5" height="29.5" fill="#fff" stroke="#111" stroke-width="3"/>
<rect x="1496.9" y="1712.8" width="29.5" height="29.5" fill="#fff" stroke="#111" stroke-width="3"/>
<rect x="1511.4" y="1714.0" width="29.5" height="29.5" fill="#fff" stroke="#111" stroke-width="3"/>
<rect x="1526.0" y="1714.6" width="29.5" height="29.5" fill="#fff" stroke="#111" stroke-width="3"/>
<rect x="1540.5" y="1711.3" width="29.5" height="29.5" fill="#fff" stroke="#111" stroke-width="3"/>
<rect x="1555.0" y="1712.6" width="29.5" height="29.5" fill="#fff" stroke="#111" stroke-width="3"/>
<rect x="1569.5" y="1705.4" width="29.5" height="29.5" fill="#fff" stroke="#111" stroke-width="3"/>
<rect x="1584.0" y="1709.7" width="29.5" height="29.5" fill="#fff" stroke="#111" stroke-width="3"/>
<rect x="1598.6" y="1704.7" width="29.5" height="29.5" fill="#fff" stroke="#111" stroke-width="3"/>
<rect x="1613.1" y="1703.1" width="29.5" height="29.5" fill="#fff" stroke="#111" stroke-width="3"/>
<rect x="1627.6" y="1705.1" width="29.5" height="29.5" fill="#fff" stroke="#111" stroke-width="3"/>
<rect x="1642.1" y="1700.3" width="29.5" height="29.5" fill="#fff" stroke="#111" stroke-width="3"/>
<rect x="1656.7" y="1697.0" width="29.5" height="29.5" fill="#fff" stroke="#111" stroke-width="3"/>
<rect x="1671.2" y="1696.0" width="29.5" height="29.5" fill="#fff" stroke="#111" stroke-width="3"/>
<rect x="1685.7" y="1694.9" width="29.5" height="29.5" fill="#fff" stroke="#111" stroke-width="3"/>
<rect x="1700.2" y="1692.4" width="29.5" height="29.5" fill="#fff" stroke="#111" stroke-width="3"/>
<rect x="1714.8" y="1692.6" width="29.5" height="29.5" fill="#fff" stroke="#111" stroke-width="3"/>
<rect x="1729.3" y="1691.6" width="29.5" height="29.5" fill="#fff" stroke="#111" stroke-width="3"/>
<rect x="1743.8" y="1692.3" width="29.5" height="29.5" fill="#fff" stroke="#111" stroke-width="3"/>
<rect x="1758.3" y="1691.0" width="29.5" height="29.5" fill="#fff" stroke="#111" stroke-width="3"/>
<rect x="1772.9" y="1693.7" width="29.5" height="29.5" fill="#fff" stroke="#111" stroke-width="3"/>
<rect x="1787.4" y="1690.7" width="29.5" height="29.5" fill="#fff" stroke="#111" stroke-width="3"/>
<rect x="1801.9" y="1693.4" width="29.5" height="29.5" fill="#fff" stroke="#111" stroke-width="3"/>
<rect x="1816.4" y="1695.2" width="29.5" height="29.5" fill="#fff" stroke="#111" stroke-width="3"/>
<rect x="1831.0" y="1693.4" width="29.5" height="29.5" fill="#fff" stroke="#111" stroke-width="3"/>
<rect x="1845.5" y="1691.2" width="29.5" height="29.5" fill="#fff" stroke="#111" stroke-width="3"/>
<rect x="1860.0" y="1692.5" width="29.5" height="29.5" fill="#fff" stroke="#111" stroke-width="3"/>
<rect x="1874.5" y="1695.1" width="29.5" height="29.5" fill="#fff" stroke="#111" stroke-width="3"/>
<rect x="1889.1" y="1693.0" width="29.5" height="29.5" fill="#fff" stroke="#111" stroke-width="3"/>
<rect x="1903.6" y="1695.6" width="29.5" height="29.5" fill="#fff" stroke="#111" stroke-width="3"/>
<rect x="1918.1" y="1696.3" width="29.5" height="29.5" fill="#fff" stroke="#111" stroke-width="3"/>
<circle cx="277.1" cy="431.8" r="15.1" fill="#fff" stroke="#444" stroke-width="3"/>
<circle cx="278.1" cy="452.8" r="15.1" fill="#fff" stroke="#444" stroke-width="3"/>
<circle cx="279.0" cy="476.5" r="15.1" fill="#fff" stroke="#444" stroke-width="3"/>
<circle cx="280.0" cy="503.0" r="15.1" fill="#fff" stroke="#444" stroke-width="3"/>
<circle cx="281.0" cy="530.9" r="15.1" fill="#fff" stroke="#444" stroke-width="3"/>
<circle cx="281.9" cy="560.9" r="15.1" fill="#fff" stroke="#444" stroke-width="3"/>
<circle cx="282.9" cy="593.7" r="15.1" fill="#fff" stroke="#444" stroke-width="3"/>
<circle cx="283.9" cy="628.6" r="15.1" fill="#fff" stroke="#444" stroke-width="3"/>
<circle cx="284.8" cy="662.1" r="15.1" fill="#fff" stroke="#444" stroke-width="3"/>
<circle cx="285.8" cy="691.4" r="15.1" fill="#fff" stroke="#444" stroke-width="3"/>
<circle cx="286.8" cy="719.4" r="15.1" fill="#fff" stroke="#444" stroke-width="3"/>
<circle cx="287.8" cy="749.4" r="15.1" fill="#fff" stroke="#444" stroke-width="3"/>
<circle cx="288.7" cy="777.3" r="15.1" fill="#fff" stroke="#444" stroke-width="3"/>
<circle cx="289.7" cy="805.2" r="15.1" fill="#fff" stroke="#444" stroke-width="3"/>
<circle cx="290.7" cy="831.0" r="15.1" fill="#fff" stroke="#444" stroke-width="3"/>
<circle cx="291.6" cy="855.4" r="15.1" fill="#fff" stroke="#444" stroke-width="3"/>
<circle cx="292.6" cy="878.3" r="15.1" fill="#fff" stroke="#444" stroke-width="3"/>
<circle cx="293.6" cy="903.6" r="15.1" fill="#fff" stroke="#444" stroke-width="3"/>
<circle cx="294.5" cy="932.2" r="15.1" fill="#fff" stroke="#444" stroke-width="3"/>
<circle cx="295.5" cy="964.2" r="15.1" fill="#fff" stroke="#444" stroke-width="3"/>
<circle cx="296.5" cy="995.0" r="15.1" fill="#fff" stroke="#444" stroke-width="3"/>
<circle cx="297.4" cy="1019.4" r="15.1" fill="#fff" stroke="#444" stroke-width="3"/>
<circle cx="298.4" cy="1042.5" r="15.1" fill="#fff" stroke="#444" stroke-width="3"/>
<circle cx="299.4" cy="1067.7" r="15.1" fill="#fff" stroke="#444" stroke-width="3"/>
<circle cx="300.3" cy="1092.7" r="15.1" fill="#fff" stroke="#444" stroke-width="3"/>
<circle cx="301.3" cy="1115.7" r="15.1" fill="#fff" stroke="#444" stroke-width="3"/>
<circle cx="302.3" cy="1138.1" r="15.1" fill="#fff" stroke="#444" stroke-width="3"/>
<circle cx="303.2" cy="1161.0" r="15.1" fill="#fff" stroke="#444" stroke-width="3"/>
<circle cx="304.2" cy="1183.4" r="15.1" fill="#fff" stroke="#444" stroke-width="3"/>
<circle cx="305.2" cy="1204.8" r="15.1" fill="#fff" stroke="#444" stroke-width="3"/>
<circle cx="306.1" cy="1225.3" r="15.1" fill="#fff" stroke="#444" stroke-width="3"/>
<circle cx="307.1" cy="1245.1" r="15.1" fill="#fff" stroke="#444" stroke-width="3"/>
<circle cx="308.1" cy="1263.7" r="15.1" fill="#fff" stroke="#444" stroke-width="3"/>
<circle cx="309.1" cy="1281.1" r="15.1" fill="#fff" stroke="#444" stroke-width="3"/>
<circle cx="310.0" cy="1296.5" r="15.1" fill="#fff" stroke="#444" stroke-width="3"/>
<circle cx="311.0" cy="1308.7" r="15.1" fill="#fff" stroke="#444" stroke-width="3"/>
<circle cx="312.0" cy="1319.5" r="15.1" fill="#fff" stroke="#444" stroke-width="3"/>
<circle cx="312.9" cy="1330.9" r="15.1" fill="#fff" stroke="#444" stroke-width="3"/>
<circle cx="313.9" cy="1340.5" r="15.1" fill="#fff" stroke="#444" stroke-width="3"/>
<circle cx="314.9" cy="1347.0" r="15.1" fill="#fff" stroke="#444" stroke-width="3"/>
<circle cx="315.8" cy="1352.3" r="15.1" fill="#fff" stroke="#444" stroke-width="3"/>
<circle cx="316.8" cy="1356.9" r="15.1" fill="#fff" stroke="#444" stroke-width="3"/>
<circle cx="317.8" cy="1361.4" r="15.1" fill="#fff" stroke="#444" stroke-width="3"/>
<circle cx="318.7" cy="1365.9" r="15.1" fill="#fff" stroke="#444" stroke-width="3"/>
<circle cx="319.7" cy="1370.2" r="15.1" fill="#fff" stroke="#444" stroke-width="3"/>
<circle cx="320.7" cy="1374.2" r="15.1" fill="#fff" stroke="#444" stroke-width="3"/>
<circle cx="321.6" cy="1377.8" r="15.1" fill="#fff" stroke="#444" stroke-width="3"/>
<circle cx="322.6" cy="1381.1" r="15.1" fill="#fff" stroke="#444" stroke-width="3"/>
<circle cx="323.6" cy="1384.2" r="15.1" fill="#fff" stroke="#444" stroke-width="3"/>
<circle cx="324.5" cy="1387.2" r="15.1" fill="#fff" stroke="#444" stroke-width="3"/>
<circle cx="325.5" cy="1390.0" r="15.1" fill="#fff" stroke="#444" stroke-width="3"/>
<circle cx="326.5" cy="1392.8" r="15.1" fill="#fff" stroke="#444" stroke-width="3"/>
<circle cx="327.5" cy="1395.4" r="15.1" fill="#fff" stroke="#444" stroke-width="3"/>
<circle cx="328.4" cy="1397.9" r="15.1" fill="#fff" stroke="#444" stroke-width="3"/>
<circle cx="329.4" cy="1400.3" r="15.1" fill="#fff" stroke="#444" stroke-width="3"/>
<circle cx="330.4" cy="1402.6" r="15.1" fill="#fff" stroke="#444" stroke-width="3"/>
<circle cx="331.3" cy="1404.9" r="15.1" fill="#fff" stroke="#444" stroke-width="3"/>
<circle cx="332.3" cy="1407.1" r="15.1" fill="#fff" stroke="#444" stroke-width="3"/>
<circle cx="333.3" cy="1409.3" r="15.1" fill="#fff" stroke="#444" stroke-width="3"/>
<circle cx="334.2" cy="1411.4" r="15.1" fill="#fff" stroke="#444" stroke-width="3"/>
<circle cx="335.2" cy="1420.7" r="15.1" fill="#fff" stroke="#444" stroke-width="3"/>
<circle cx="349.7" cy="1437.5" r="15.1" fill="#fff" stroke="#444" stroke-width="3"/>
<circle cx="364.2" cy="1446.9" r="15.1" fill="#fff" stroke="#444" stroke-width="3"/>
<circle cx="378.8" cy="1462.1" r="15.1" fill="#fff" stroke="#444" stroke-width="3"/>
<circle cx="393.3" cy="1470.2" r="15.1" fill="#fff" stroke="#444" stroke-width="3"/>
<circle cx="407.8" cy="1480.0" r="15.1" fill="#fff" stroke="#444" stroke-width="3"/>
<circle cx="422.3" cy="1482.1" r="15.1" fill="#fff" stroke="#444" stroke-width="3"/>
<circle cx="436.9" cy="1486.9" r="15.1" fill="#fff" stroke="#444" stroke-width="3"/>
<circle cx="451.4" cy="1490.1" r="15.1" fill="#fff" stroke="#444" stroke-width="3"/>
<circle cx="465.9" cy="1500.5" r="15.1" fill="#fff" stroke="#444" stroke-width="3"/>
<circle cx="480.4" cy="1498.0" r="15.1" fill="#fff" stroke="#444" stroke-width="3"/>
<circle cx="495.0" cy="1505.0" r="15.1" fill="#fff" stroke="#444" stroke-width="3"/>
<circle cx="509.5" cy="1505.4" r="15.1" fill="#fff" stroke="#444" stroke-width="3"/>
<circle cx="524.0" cy="1510.0" r="15.1" fill="#fff" stroke="#444" stroke-width="3"/>
<circle cx="538.5" cy="1513.8" r="15.1" fill="#fff" stroke="#444" stroke-width="3"/>
<circle cx="553.1" cy="1515.1" r="15.1" fill="#fff" stroke="#444" stroke-width="3"/>
<circle cx="567.6" cy="1517.1" r="15.1" fill="#fff" stroke="#444" stroke-width="3"/>
<circle cx="582.1" cy="1521.1" r="15.1" fill="#fff" stroke="#444" stroke-width="3"/>
<circle cx="596.6" cy="1522.7" r="15.1" fill="#fff" stroke="#444" stroke-width="3"/>
<circle cx="611.2" cy="1523.4" r="15.1" fill="#fff" stroke="#444" stroke-width="3"/>
<circle cx="625.7" cy="1529.2" r="15.1" fill="#fff" stroke="#444" stroke-width="3"/>
<circle cx="640.2" cy="1532.2" r="15.1" fill="#fff" stroke="#444" stroke-width="3"/>
<circle cx="654.7" cy="1529.4" r="15.1" fill="#fff" stroke="#444" stroke-width="3"/>
<circle cx="669.3" cy="1532.3" r="15.1" fill="#fff" stroke="#444" stroke-width="3"/>
<circle cx="683.8" cy="1535.4" r="15.1" fill="#fff" stroke="#444" stroke-width="3"/>
<circle cx="698.3" cy="1534.0" r="15.1" fill="#fff" stroke="#444" stroke-width="3"/>
<circle cx="712.8" cy="1534.8" r="15.1" fill="#fff" stroke="#444" stroke-width="3"/>
<circle cx="727.3" cy="1537.7" r="15.1" fill="#fff" stroke="#444" stroke-width="3"/>
<circle cx="741.9" cy="1539.1" r="15.1" fill="#fff" stroke="#444" stroke-width="3"/>
<circle cx="756.4" cy="1536.6" r="15.1" fill="#fff" stroke="#444" stroke-width="3"/>
<circle cx="770.9" cy="1535.8" r="15.1" fill="#fff" stroke="#444" stroke-width="3"/>
<circle cx="785.4" cy="1540.9" r="15.1" fill="#fff" stroke="#444" stroke-width="3"/>
<circle cx="800.0" cy="1546.9" r="15.1" fill="#fff" stroke="#444" stroke-width="3"/>
<circle cx="814.5" cy="1548.1" r="15.1" fill="#fff" stroke="#444" stroke-width="3"/>
<circle cx="829.0" cy="1549.5" r="15.1" fill="#fff" stroke="#444" stroke-width="3"/>
<circle cx="843.5" cy="1553.2" r="15.1" fill="#fff" stroke="#444" stroke-width="3"/>
<circle cx="858.1" cy="1553.1" r="15.1" fill="#fff" stroke="#444" stroke-width="3"/>
<circle cx="872.6" cy="1554.2" r="15.1" fill="#fff" stroke="#444" stroke-width="3"/>
<circle cx="887.1" cy="1559.8" r="15.1" fill="#fff" stroke="#444" stroke-width="3"/>
<circle cx="901.6" cy="1564.3" r="15.1" fill="#fff" stroke="#444" stroke-width="3"/>
<circle cx="916.2" cy="1564.8" r="15.1" fill="#fff" stroke="#444" stroke-width="3"/>
<circle cx="930.7" cy="1567.1" r="15.1" fill="#fff" stroke="#444" stroke-width="3"/>
<circle cx="945.2" cy="1566.8" r="15.1" fill="#fff" stroke="#444" stroke-width="3"/>
<circle cx="959.7" cy="1572.9" r="15.1" fill="#fff" stroke="#444" stroke-width="3"/>
<circle cx="974.3" cy="1572.8" r="15.1" fill="#fff" stroke="#444" stroke-width="3"/>
<circle cx="988.8" cy="1574.6" r="15.1" fill="#fff" stroke="#444" stroke-width="3"/>
<circle cx="1003.3" cy="1578.3" r="15.1" fill="#fff" stroke="#444" stroke-width="3"/>
<circle cx="1017.8" cy="1575.4" r="15.1" fill="#fff" stroke="#444" stroke-width="3"/>
<circle cx="1032.4" cy="1573.7" r="15.1" fill="#fff" stroke="#444" stroke-width="3"/>
<circle cx="1046.9" cy="1575.0" r="15.1" fill="#fff" stroke="#444" stroke-width="3"/>
<circle cx="1061.4" cy="1570.2" r="15.1" fill="#fff" stroke="#444" stroke-width="3"/>
<circle cx="1075.9" cy="1576.6" r="15.1" fill="#fff" stroke="#444" stroke-width="3"/>
<circle cx="1090.5" cy="1583.9" r="15.1" fill="#fff" stroke="#444" stroke-width="3"/>
<circle cx="1105.0" cy="1585.4" r="15.1" fill="#fff" stroke="#444" stroke-width="3"/>
<circle cx="1119.5" cy="1581.5" r="15.1" fill="#fff" stroke="#444" stroke-width="3"/>
<circle cx="1134.0" cy="1586.9" r="15.1" fill="#fff" stroke="#444" stroke-width="3"/>
<circle cx="1148.6" cy="1585.4" r="15.1" fill="#fff" stroke="#444" stroke-width="3"/>
<circle cx="1163.1" cy="1588.8" r="15.1" fill="#fff" stroke="#444" stroke-width="3"/>
<circle cx="1177.6" cy="1596.8" r="15.1" fill="#fff" stroke="#444" stroke-width="3"/>
<circle cx="1192.1" cy="1595.0" r="15.1" fill="#fff" stroke="#444" stroke-width="3"/>
<circle cx="1206.6" cy="1599.0" r="15.1" fill="#fff" stroke="#444" stroke-width="3"/>
<circle cx="1221.2" cy="1599.5" r="15.1" fill="#fff" stroke="#444" stroke-width="3"/>
<circle cx="1235.7" cy="1604.5" r="15.1" fill="#fff" stroke="#444" stroke-width="3"/>
<circle cx="1250.2" cy="1605.8" r="15.1" fill="#fff" stroke="#444" stroke-width="3"/>
<circle cx="1264.7" cy="1607.1" r="15.1" fill="#fff" stroke="#444" stroke-width="3"/>
<circle cx="1279.3" cy="1611.6" r="15.1" fill="#fff" stroke="#444" stroke-width="3"/>
<circle cx="1293.8" cy="1610.4" r="15.1" fill="#fff" stroke="#444" stroke-width="3"/>
<circle cx="1308.3" cy="1613.6" r="15.1" fill="#fff" stroke="#444" stroke-width="3"/>
<circle cx="1322.8" cy="1613.9" r="15.1" fill="#fff" stroke="#444" stroke-width="3"/>
<circle cx="1337.4" cy="1617.4" r="15.1" fill="#fff" stroke="#444" stroke-width="3"/>
<circle cx="1351.9" cy="1615.4" r="15.1" fill="#fff" stroke="#444" stroke-width="3"/>
<circle cx="1366.4" cy="1618.0" r="15.1" fill="#fff" stroke="#444" stroke-width="3"/>
<circle cx="1380.9" cy="1621.8" r="15.1" fill="#fff" stroke="#444" stroke-width="3"/>
<circle cx="1395.5" cy="1622.6" r="15.1" fill="#fff" stroke="#444" stroke-width="3"/>
<circle cx="1410.0" cy="1623.7" r="15.1" fill="#fff" stroke="#444" stroke-width="3"/>
<circle cx="1424.5" cy="1624.9" r="15.1" fill="#fff" stroke="#444" stroke-width="3"/>
<circle cx="1439.0" cy="1634.2" r="15.1" fill="#fff" stroke="#444" stroke-width="3"/>
<circle cx="1453.6" cy="1631.3" r="15.1" fill="#fff" stroke="#444" stroke-width="3"/>
<circle cx="1468.1" cy="1634.0" r="15.1" fill="#fff" stroke="#444" stroke-width="3"/>
<circle cx="1482.6" cy="1636.6" r="15.1" fill="#fff" stroke="#444" stroke-width="3"/>
<circle cx="1497.1" cy="1639.7" r="15.1" fill="#fff" stroke="#444" stroke-width="3"/>
<circle cx="1511.7" cy="1636.3" r="15.1" fill="#fff" stroke="#444" stroke-width="3"/>
<circle cx="1526.2" cy="1643.2" r="15.1" fill="#fff" stroke="#444" stroke-width="3"/>
<circle cx="1540.7" cy="1641.5" r="15.1" fill="#fff" stroke="#444" stroke-width="3"/>
<circle cx="1555.2" cy="1642.3" r="15.1" fill="#fff" stroke="#444" stroke-width="3"/>
<circle cx="1569.8" cy="1650.9" r="15.1" fill="#fff" stroke="#444" stroke-width="3"/>
<circle cx="1584.3" cy="1651.0" r="15.1" fill="#fff" stroke="#444" stroke-width="3"/>
<circle cx="1598.8" cy="1656.2" r="15.1" fill="#fff" stroke="#444" stroke-width="3"/>
<circle cx="1613.3" cy="1655.9" r="15.1" fill="#fff" stroke="#444" stroke-width="3"/>
<circle cx="1627.8" cy="1655.9" r="15.1" fill="#fff" stroke="#444" stroke-width="3"/>
<circle cx="1642.4" cy="1657.5" r="15.1" fill="#fff" stroke="#444" stroke-width="3"/>
<circle cx="1656.9" cy="1667.9" r="15.1" fill="#fff" stroke="#444" stroke-width="3"/>
<circle cx="1671.4" cy="1666.8" r="15.1" fill="#fff" stroke="#444" stroke-width="3"/>
<circle cx="1685.9" cy="1664.4" r="15.1" fill="#fff" stroke="#444" stroke-width="3"/>
<circle cx="1700.5" cy="1662.7" r="15.1" fill="#fff" stroke="#444" stroke-width="3"/>
<circle cx="1715.0" cy="1665.3" r="15.1" fill="#fff" stroke="#444" stroke-width="3"/>
<circle cx="1729.5" cy="1668.0" r="15.1" fill="#fff" stroke="#444" stroke-width="3"/>
<circle cx="1744.0" cy="1666.5" r="15.1" fill="#fff" stroke="#444" stroke-width="3"/>
<circle cx="1758.6" cy="1668.0" r="15.1" fill="#fff" stroke="#444" stroke-width="3"/>
<circle cx="1773.1" cy="1668.9" r="15.1" fill="#fff" stroke="#444" stroke-width="3"/>
<circle cx="1787.6" cy="1670.0" r="15.1" fill="#fff" stroke="#444" stroke-width="3"/>
<circle cx="1802.1" cy="1667.7" r="15.1" fill="#fff" stroke="#444" stroke-width="3"/>
<circle cx="1816.7" cy="1667.8" r="15.1" fill="#fff" stroke="#444" stroke-width="3"/>
<circle cx="1831.2" cy="1668.7" r="15.1" fill="#fff" stroke="#444" stroke-width="3"/>
<circle cx="1845.7" cy="1669.4" r="15.1" fill="#fff" stroke="#444" stroke-width="3"/>
<circle cx="1860.2" cy="1672.5" r="15.1" fill="#fff" stroke="#444" stroke-width="3"/>
<circle cx="1874.8" cy="1671.9" r="15.1" fill="#fff" stroke="#444" stroke-width="3"/>
<circle cx="1889.3" cy="1669.4" r="15.1" fill="#fff" stroke="#444" stroke-width="3"/>
<circle cx="1903.8" cy="1673.5" r="15.1" fill="#fff" stroke="#444" stroke-width="3"/>
<circle cx="1918.3" cy="1677.6" r="15.1" fill="#fff" stroke="#444" stroke-width="3"/>
<circle cx="1932.9" cy="1676.1" r="15.1" fill="#fff" stroke="#444" stroke-width="3"/>
<path d="M277.1 503.5L291.1 530.5L263.1 530.5Z" fill="#fff" stroke="#444" stroke-width="3" stroke-linejoin="miter"/>
<path d="M278.1 615.1L292.1 642.1L264.1 642.1Z" fill="#fff" stroke="#444" stroke-width="3" stroke-linejoin="miter"/>
<path d="M279.0 723.3L293.0 750.3L265.0 750.3Z" fill="#fff" stroke="#444" stroke-width="3" stroke-linejoin="miter"/>
<path d="M280.0 814.0L294.0 841.0L266.0 841.0Z" fill="#fff" stroke="#444" stroke-width="3" stroke-linejoin="miter"/>
<path d="M281.0 883.8L295.0 910.8L267.0 910.8Z" fill="#fff" stroke="#444" stroke-width="3" stroke-linejoin="miter"/>
<path d="M281.9 939.6L295.9 966.6L267.9 966.6Z" fill="#fff" stroke="#444" stroke-width="3" stroke-linejoin="miter"/>
<path d="M282.9 988.5L296.9 1015.5L268.9 1015.5Z" fill="#fff" stroke="#444" stroke-width="3" stroke-linejoin="miter"/>
<path d="M283.9 1023.4L297.9 1050.4L269.9 1050.4Z" fill="#fff" stroke="#444" stroke-width="3" stroke-linejoin="miter"/>
<path d="M284.8 1058.3L298.8 1085.3L270.8 1085.3Z" fill="#fff" stroke="#444" stroke-width="3" stroke-linejoin="miter"/>
<path d="M285.8 1089.7L299.8 1116.7L271.8 1116.7Z" fill="#fff" stroke="#444" stroke-width="3" stroke-linejoin="miter"/>
<path d="M286.8 1117.6L300.8 1144.6L272.8 1144.6Z" fill="#fff" stroke="#444" stroke-width="3" stroke-linejoin="miter"/>
<path d="M287.8 1143.2L301.8 1170.2L273.8 1170.2Z" fill="#fff" stroke="#444" stroke-width="3" stroke-linejoin="miter"/>
<path d="M288.7 1166.5L302.7 1193.5L274.7 1193.5Z" fill="#fff" stroke="#444" stroke-width="3" stroke-linejoin="miter"/>
<path d="M289.7 1187.2L303.7 1214.2L275.7 1214.2Z" fill="#fff" stroke="#444" stroke-width="3" stroke-linejoin="miter"/>
<path d="M290.7 1204.8L304.7 1231.8L276.7 1231.8Z" fill="#fff" stroke="#444" stroke-width="3" stroke-linejoin="miter"/>
<path d="M291.6 1218.9L305.6 1245.9L277.6 1245.9Z" fill="#fff" stroke="#444" stroke-width="3" stroke-linejoin="miter"/>
<path d="M292.6 1230.8L306.6 1257.8L278.6 1257.8Z" fill="#fff" stroke="#444" stroke-width="3" stroke-linejoin="miter"/>
<path d="M293.6 1241.4L307.6 1268.4L279.6 1268.4Z" fill="#fff" stroke="#444" stroke-width="3" stroke-linejoin="miter"/>
<path d="M294.5 1250.7L308.5 1277.7L280.5 1277.7Z" fill="#fff" stroke="#444" stroke-width="3" stroke-linejoin="miter"/>
<path d="M295.5 1259.3L309.5 1286.3L281.5 1286.3Z" fill="#fff" stroke="#444" stroke-width="3" stroke-linejoin="miter"/>
<path d="M296.5 1267.6L310.5 1294.6L282.5 1294.6Z" fill="#fff" stroke="#444" stroke-width="3" stroke-linejoin="miter"/>
<path d="M297.4 1276.3L311.4 1303.3L283.4 1303.3Z" fill="#fff" stroke="#444" stroke-width="3" stroke-linejoin="miter"/>
<path d="M298.4 1285.1L312.4 1312.1L284.4 1312.1Z" fill="#fff" stroke="#444" stroke-width="3" stroke-linejoin="miter"/>
<path d="M299.4 1293.2L313.4 1320.2L285.4 1320.2Z" fill="#fff" stroke="#444" stroke-width="3" stroke-linejoin="miter"/>
<path d="M300.3 1300.0L314.3 1327.0L286.3 1327.0Z" fill="#fff" stroke="#444" stroke-width="3" stroke-linejoin="miter"/>
<path d="M301.3 1304.7L315.3 1331.7L287.3 1331.7Z" fill="#fff" stroke="#444" stroke-width="3" stroke-linejoin="miter"/>
<path d="M302.3 1308.4L316.3 1335.4L288.3 1335.4Z" fill="#fff" stroke="#444" stroke-width="3" stroke-linejoin="miter"/>
<path d="M303.2 1311.5L317.2 1338.5L289.2 1338.5Z" fill="#fff" stroke="#444" stroke-width="3" stroke-linejoin="miter"/>
<path d="M304.2 1314.3L318.2 1341.3L290.2 1341.3Z" fill="#fff" stroke="#444" stroke-width="3" stroke-linejoin="miter"/>
<path d="M305.2 1317.0L319.2 1344.0L291.2 1344.0Z" fill="#fff" stroke="#444" stroke-width="3" stroke-linejoin="miter"/>
<path d="M306.1 1320.0L320.1 1347.0L292.1 1347.0Z" fill="#fff" stroke="#444" stroke-width="3" stroke-linejoin="miter"/>
<path d="M307.1 1323.1L321.1 1350.1L293.1 1350.1Z" fill="#fff" stroke="#444" stroke-width="3" stroke-linejoin="miter"/>
<path d="M308.1 1326.1L322.1 1353.1L294.1 1353.1Z" fill="#fff" stroke="#444" stroke-width="3" stroke-linejoin="miter"/>
<path d="M309.1 1329.2L323.1 1356.2L295.1 1356.2Z" fill="#fff" stroke="#444" stroke-width="3" stroke-linejoin="miter"/>
<path d="M310.0 1332.3L324.0 1359.3L296.0 1359.3Z" fill="#fff" stroke="#444" stroke-width="3" stroke-linejoin="miter"/>
<path d="M311.0 1335.8L325.0 1362.8L297.0 1362.8Z" fill="#fff" stroke="#444" stroke-width="3" stroke-linejoin="miter"/>
<path d="M312.0 1339.6L326.0 1366.6L298.0 1366.6Z" fill="#fff" stroke="#444" stroke-width="3" stroke-linejoin="miter"/>
<path d="M312.9 1344.1L326.9 1371.1L298.9 1371.1Z" fill="#fff" stroke="#444" stroke-width="3" stroke-linejoin="miter"/>
<path d="M313.9 1349.1L327.9 1376.1L299.9 1376.1Z" fill="#fff" stroke="#444" stroke-width="3" stroke-linejoin="miter"/>
<path d="M314.9 1354.5L328.9 1381.5L300.9 1381.5Z" fill="#fff" stroke="#444" stroke-width="3" stroke-linejoin="miter"/>
<path d="M315.8 1360.1L329.8 1387.1L301.8 1387.1Z" fill="#fff" stroke="#444" stroke-width="3" stroke-linejoin="miter"/>
<path d="M316.8 1365.8L330.8 1392.8L302.8 1392.8Z" fill="#fff" stroke="#444" stroke-width="3" stroke-linejoin="miter"/>
<path d="M317.8 1371.3L331.8 1398.3L303.8 1398.3Z" fill="#fff" stroke="#444" stroke-width="3" stroke-linejoin="miter"/>
<path d="M318.7 1376.7L332.7 1403.7L304.7 1403.7Z" fill="#fff" stroke="#444" stroke-width="3" stroke-linejoin="miter"/>
<path d="M319.7 1381.6L333.7 1408.6L305.7 1408.6Z" fill="#fff" stroke="#444" stroke-width="3" stroke-linejoin="miter"/>
<path d="M320.7 1385.9L334.7 1412.9L306.7 1412.9Z" fill="#fff" stroke="#444" stroke-width="3" stroke-linejoin="miter"/>
<path d="M321.6 1389.5L335.6 1416.5L307.6 1416.5Z" fill="#fff" stroke="#444" stroke-width="3" stroke-linejoin="miter"/>
<path d="M322.6 1392.5L336.6 1419.5L308.6 1419.5Z" fill="#fff" stroke="#444" stroke-width="3" stroke-linejoin="miter"/>
<path d="M323.6 1395.1L337.6 1422.1L309.6 1422.1Z" fill="#fff" stroke="#444" stroke-width="3" stroke-linejoin="miter"/>
<path d="M324.5 1397.6L338.5 1424.6L310.5 1424.6Z" fill="#fff" stroke="#444" stroke-width="3" stroke-linejoin="miter"/>
<path d="M325.5 1399.9L339.5 1426.9L311.5 1426.9Z" fill="#fff" stroke="#444" stroke-width="3" stroke-linejoin="miter"/>
<path d="M326.5 1402.0L340.5 1429.0L312.5 1429.0Z" fill="#fff" stroke="#444" stroke-width="3" stroke-linejoin="miter"/>
<path d="M327.5 1404.0L341.5 1431.0L313.5 1431.0Z" fill="#fff" stroke="#444" stroke-width="3" stroke-linejoin="miter"/>
<path d="M328.4 1405.9L342.4 1432.9L314.4 1432.9Z" fill="#fff" stroke="#444" stroke-width="3" stroke-linejoin="miter"/>
<path d="M329.4 1407.7L343.4 1434.7L315.4 1434.7Z" fill="#fff" stroke="#444" stroke-width="3" stroke-linejoin="miter"/>
<path d="M330.4 1409.6L344.4 1436.6L316.4 1436.6Z" fill="#fff" stroke="#444" stroke-width="3" stroke-linejoin="miter"/>
<path d="M331.3 1411.4L345.3 1438.4L317.3 1438.4Z" fill="#fff" stroke="#444" stroke-width="3" stroke-linejoin="miter"/>
<path d="M332.3 1413.2L346.3 1440.2L318.3 1440.2Z" fill="#fff" stroke="#444" stroke-width="3" stroke-linejoin="miter"/>
<path d="M333.3 1415.1L347.3 1442.1L319.3 1442.1Z" fill="#fff" stroke="#444" stroke-width="3" stroke-linejoin="miter"/>
<path d="M334.2 1416.8L348.2 1443.8L320.2 1443.8Z" fill="#fff" stroke="#444" stroke-width="3" stroke-linejoin="miter"/>
<path d="M335.2 1421.7L349.2 1448.7L321.2 1448.7Z" fill="#fff" stroke="#444" stroke-width="3" stroke-linejoin="miter"/>
<path d="M349.7 1458.9L363.7 1485.9L335.7 1485.9Z" fill="#fff" stroke="#444" stroke-width="3" stroke-linejoin="miter"/>
<path d="M364.2 1461.9L378.2 1488.9L350.2 1488.9Z" fill="#fff" stroke="#444" stroke-width="3" stroke-linejoin="miter"/>
<path d="M378.8 1494.5L392.8 1521.5L364.8 1521.5Z" fill="#fff" stroke="#444" stroke-width="3" stroke-linejoin="miter"/>
<path d="M393.3 1516.8L407.3 1543.8L379.3 1543.8Z" fill="#fff" stroke="#444" stroke-width="3" stroke-linejoin="miter"/>
<path d="M407.8 1530.8L421.8 1557.8L393.8 1557.8Z" fill="#fff" stroke="#444" stroke-width="3" stroke-linejoin="miter"/>
<path d="M422.3 1546.1L436.3 1573.1L408.3 1573.1Z" fill="#fff" stroke="#444" stroke-width="3" stroke-linejoin="miter"/>
<path d="M436.9 1555.6L450.9 1582.6L422.9 1582.6Z" fill="#fff" stroke="#444" stroke-width="3" stroke-linejoin="miter"/>
<path d="M451.4 1571.9L465.4 1598.9L437.4 1598.9Z" fill="#fff" stroke="#444" stroke-width="3" stroke-linejoin="miter"/>
<path d="M465.9 1579.0L479.9 1606.0L451.9 1606.0Z" fill="#fff" stroke="#444" stroke-width="3" stroke-linejoin="miter"/>
<path d="M480.4 1589.4L494.4 1616.4L466.4 1616.4Z" fill="#fff" stroke="#444" stroke-width="3" stroke-linejoin="miter"/>
<path d="M495.0 1594.3L509.0 1621.3L481.0 1621.3Z" fill="#fff" stroke="#444" stroke-width="3" stroke-linejoin="miter"/>
<path d="M509.5 1611.9L523.5 1638.9L495.5 1638.9Z" fill="#fff" stroke="#444" stroke-width="3" stroke-linejoin="miter"/>
<path d="M524.0 1623.8L538.0 1650.8L510.0 1650.8Z" fill="#fff" stroke="#444" stroke-width="3" stroke-linejoin="miter"/>
<path d="M538.5 1626.4L552.5 1653.4L524.5 1653.4Z" fill="#fff" stroke="#444" stroke-width="3" stroke-linejoin="miter"/>
<path d="M553.1 1633.4L567.1 1660.4L539.1 1660.4Z" fill="#fff" stroke="#444" stroke-width="3" stroke-linejoin="miter"/>
<path d="M567.6 1644.4L581.6 1671.4L553.6 1671.4Z" fill="#fff" stroke="#444" stroke-width="3" stroke-linejoin="miter"/>
<path d="M582.1 1651.1L596.1 1678.1L568.1 1678.1Z" fill="#fff" stroke="#444" stroke-width="3" stroke-linejoin="miter"/>
<path d="M596.6 1657.3L610.6 1684.3L582.6 1684.3Z" fill="#fff" stroke="#444" stroke-width="3" stroke-linejoin="miter"/>
<path d="M611.2 1666.7L625.2 1693.7L597.2 1693.7Z" fill="#fff" stroke="#444" stroke-width="3" stroke-linejoin="miter"/>
<path d="M625.7 1674.2L639.7 1701.2L611.7 1701.2Z" fill="#fff" stroke="#444" stroke-width="3" stroke-linejoin="miter"/>
<path d="M640.2 1679.1L654.2 1706.1L626.2 1706.1Z" fill="#fff" stroke="#444" stroke-width="3" stroke-linejoin="miter"/>
<path d="M654.7 1686.8L668.7 1713.8L640.7 1713.8Z" fill="#fff" stroke="#444" stroke-width="3" stroke-linejoin="miter"/>
<path d="M669.3 1693.9L683.3 1720.9L655.3 1720.9Z" fill="#fff" stroke="#444" stroke-width="3" stroke-linejoin="miter"/>
<path d="M683.8 1696.5L697.8 1723.5L669.8 1723.5Z" fill="#fff" stroke="#444" stroke-width="3" stroke-linejoin="miter"/>
<path d="M698.3 1698.4L712.3 1725.4L684.3 1725.4Z" fill="#fff" stroke="#444" stroke-width="3" stroke-linejoin="miter"/>
<path d="M712.8 1705.7L726.8 1732.7L698.8 1732.7Z" fill="#fff" stroke="#444" stroke-width="3" stroke-linejoin="miter"/>
<path d="M727.3 1707.0L741.3 1734.0L713.3 1734.0Z" fill="#fff" stroke="#444" stroke-width="3" stroke-linejoin="miter"/>
<path d="M741.9 1712.6L755.9 1739.6L727.9 1739.6Z" fill="#fff" stroke="#444" stroke-width="3" stroke-linejoin="miter"/>
<path d="M756.4 1719.0L770.4 1746.0L742.4 1746.0Z" fill="#fff" stroke="#444" stroke-width="3" stroke-linejoin="miter"/>
<path d="M770.9 1721.2L784.9 1748.2L756.9 1748.2Z" fill="#fff" stroke="#444" stroke-width="3" stroke-linejoin="miter"/>
<path d="M785.4 1726.2L799.4 1753.2L771.4 1753.2Z" fill="#fff" stroke="#444" stroke-width="3" stroke-linejoin="miter"/>
<path d="M800.0 1725.8L814.0 1752.8L786.0 1752.8Z" fill="#fff" stroke="#444" stroke-width="3" stroke-linejoin="miter"/>
<path d="M814.5 1725.0L828.5 1752.0L800.5 1752.0Z" fill="#fff" stroke="#444" stroke-width="3" stroke-linejoin="miter"/>
<path d="M829.0 1730.0L843.0 1757.0L815.0 1757.0Z" fill="#fff" stroke="#444" stroke-width="3" stroke-linejoin="miter"/>
<path d="M843.5 1737.3L857.5 1764.3L829.5 1764.3Z" fill="#fff" stroke="#444" stroke-width="3" stroke-linejoin="miter"/>
<path d="M858.1 1739.8L872.1 1766.8L844.1 1766.8Z" fill="#fff" stroke="#444" stroke-width="3" stroke-linejoin="miter"/>
<path d="M872.6 1741.7L886.6 1768.7L858.6 1768.7Z" fill="#fff" stroke="#444" stroke-width="3" stroke-linejoin="miter"/>
<path d="M887.1 1744.8L901.1 1771.8L873.1 1771.8Z" fill="#fff" stroke="#444" stroke-width="3" stroke-linejoin="miter"/>
<path d="M901.6 1747.6L915.6 1774.6L887.6 1774.6Z" fill="#fff" stroke="#444" stroke-width="3" stroke-linejoin="miter"/>
<path d="M916.2 1744.0L930.2 1771.0L902.2 1771.0Z" fill="#fff" stroke="#444" stroke-width="3" stroke-linejoin="miter"/>
<path d="M930.7 1750.8L944.7 1777.8L916.7 1777.8Z" fill="#fff" stroke="#444" stroke-width="3" stroke-linejoin="miter"/>
<path d="M945.2 1748.2L959.2 1775.2L931.2 1775.2Z" fill="#fff" stroke="#444" stroke-width="3" stroke-linejoin="miter"/>
<path d="M959.7 1750.3L973.7 1777.3L945.7 1777.3Z" fill="#fff" stroke="#444" stroke-width="3" stroke-linejoin="miter"/>
<path d="M974.3 1753.9L988.3 1780.9L960.3 1780.9Z" fill="#fff" stroke="#444" stroke-width="3" stroke-linejoin="miter"/>
<path d="M988.8 1749.9L1002.8 1776.9L974.8 1776.9Z" fill="#fff" stroke="#444" stroke-width="3" stroke-linejoin="miter"/>
<path d="M1003.3 1752.8L1017.3 1779.8L989.3 1779.8Z" fill="#fff" stroke="#444" stroke-width="3" stroke-linejoin="miter"/>
<path d="M1017.8 1757.0L1031.8 1784.0L1003.8 1784.0Z" fill="#fff" stroke="#444" stroke-width="3" stroke-linejoin="miter"/>
<path d="M1032.4 1754.4L1046.4 1781.4L1018.4 1781.4Z" fill="#fff" stroke="#444" stroke-width="3" stroke-linejoin="miter"/>
<path d="M1046.9 1757.6L1060.9 1784.6L1032.9 1784.6Z" fill="#fff" stroke="#444" stroke-width="3" stroke-linejoin="miter"/>
<path d="M1061.4 1761.8L1075.4 1788.8L1047.4 1788.8Z" fill="#fff" stroke="#444" stroke-width="3" stroke-linejoin="miter"/>
<path d="M1075.9 1760.3L1089.9 1787.3L1061.9 1787.3Z" fill="#fff" stroke="#444" stroke-width="3" stroke-linejoin="miter"/>
<path d="M1090.5 1759.4L1104.5 1786.4L1076.5 1786.4Z" fill="#fff" stroke="#444" stroke-width="3" stroke-linejoin="miter"/>
<path d="M1105.0 1759.7L1119.0 1786.7L1091.0 1786.7Z" fill="#fff" stroke="#444" stroke-width="3" stroke-linejoin="miter"/>
<path d="M1119.5 1761.7L1133.5 1788.7L1105.5 1788.7Z" fill="#fff" stroke="#444" stroke-width="3" stroke-linejoin="miter"/>
<path d="M1134.0 1762.9L1148.0 1789.9L1120.0 1789.9Z" fill="#fff" stroke="#444" stroke-width="3" stroke-linejoin="miter"/>
<path d="M1148.6 1762.8L1162.6 1789.8L1134.6 1789.8Z" fill="#fff" stroke="#444" stroke-width="3" stroke-linejoin="miter"/>
<path d="M1163.1 1764.5L1177.1 1791.5L1149.1 1791.5Z" fill="#fff" stroke="#444" stroke-width="3" stroke-linejoin="miter"/>
</svg>
</body></html>
